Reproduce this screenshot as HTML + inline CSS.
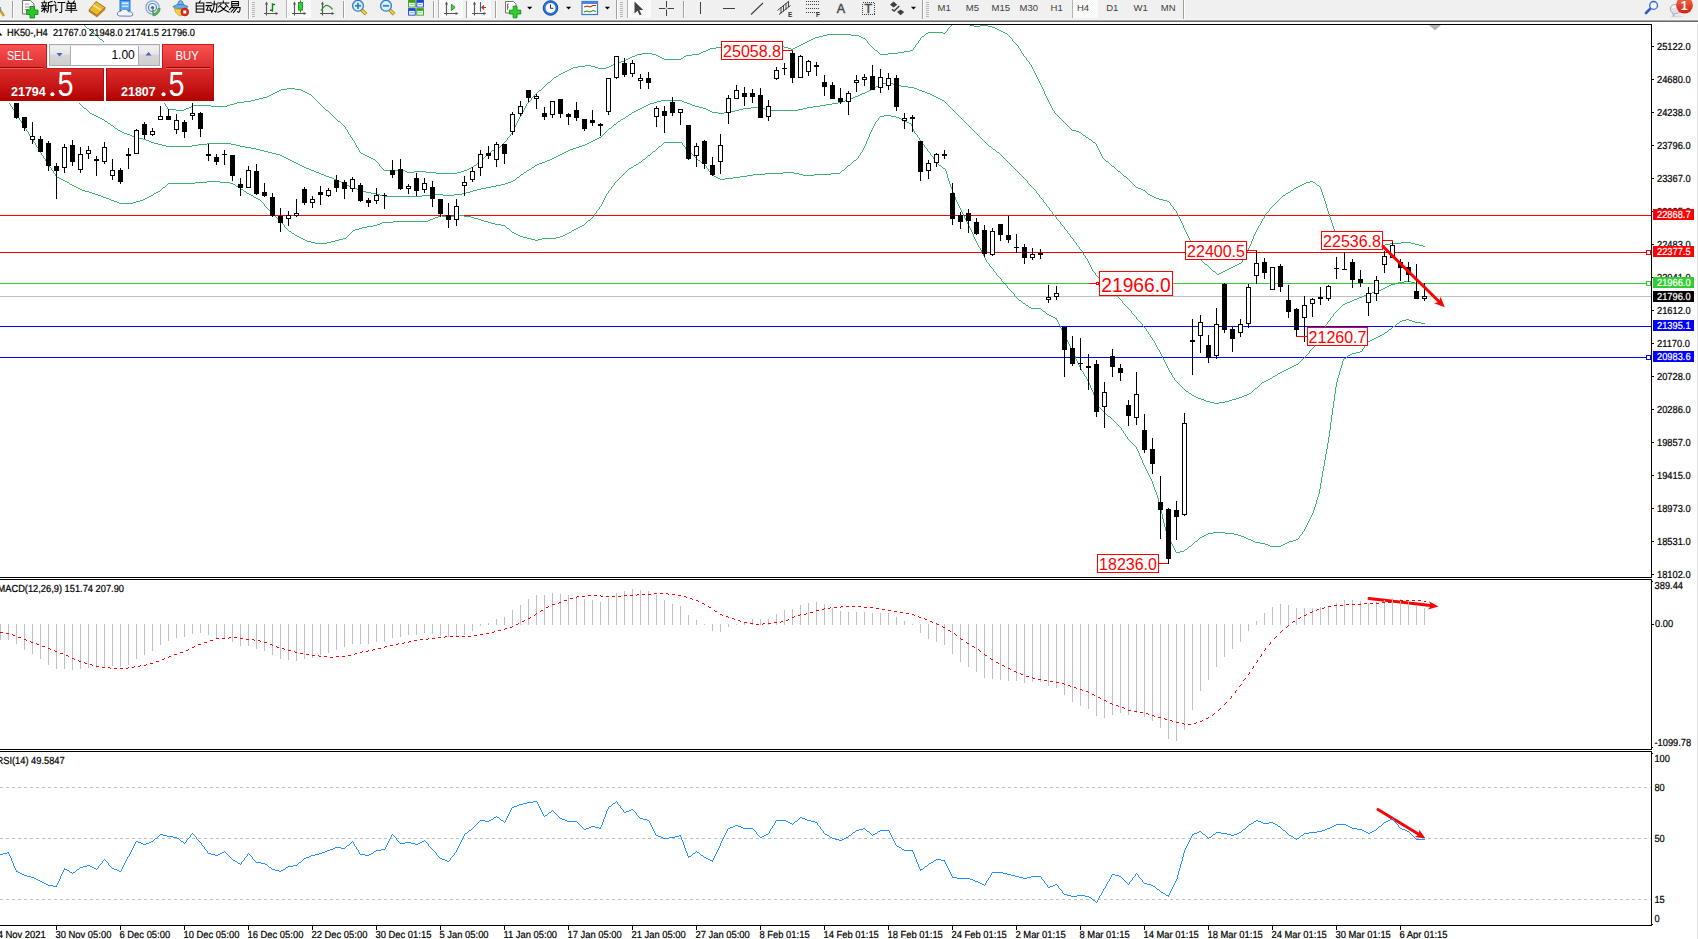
<!DOCTYPE html><html><head><meta charset="utf-8"><style>html,body{margin:0;padding:0;background:#fff}body{width:1698px;height:939px;overflow:hidden;position:relative}svg{position:absolute;left:0;top:0;display:block}text{font-family:"Liberation Sans",sans-serif}</style></head><body>
<svg width="1698" height="939" viewBox="0 0 1698 939">
<defs>
<clipPath id="cm"><rect x="0" y="25" width="1651" height="552"/></clipPath>
<clipPath id="c2"><rect x="0" y="580" width="1651" height="169"/></clipPath>
<clipPath id="c3"><rect x="0" y="752" width="1651" height="173"/></clipPath>
<linearGradient id="gt" x1="0" y1="0" x2="0" y2="1"><stop offset="0" stop-color="#fa5252"/><stop offset="1" stop-color="#de2e2e"/></linearGradient>
<linearGradient id="gb" x1="0" y1="0" x2="0" y2="1"><stop offset="0" stop-color="#dc2c2c"/><stop offset="0.6" stop-color="#c41414"/><stop offset="1" stop-color="#b00000"/></linearGradient>
<linearGradient id="gbtn" x1="0" y1="0" x2="0" y2="1"><stop offset="0" stop-color="#f4f4f4"/><stop offset="0.45" stop-color="#e6e6e6"/><stop offset="0.5" stop-color="#d6d6d6"/><stop offset="1" stop-color="#cfcfcf"/></linearGradient>
<pattern id="hatch" width="2" height="2" patternUnits="userSpaceOnUse"><rect width="2" height="2" fill="#f6f6f6"/><rect width="1" height="1" fill="#fff"/><rect x="1" y="1" width="1" height="1" fill="#fff"/></pattern>
</defs>
<rect x="0" y="0" width="1698" height="939" fill="#fff" />
<g shape-rendering="crispEdges">
<rect x="0" y="215" width="1651" height="1" fill="#ff0000" />
<rect x="0" y="252" width="1651" height="1" fill="#ff0000" />
<rect x="0" y="283" width="1651" height="1" fill="#32cd32" />
<rect x="0" y="296" width="1651" height="1" fill="#c0c0c0" />
<rect x="0" y="326" width="1651" height="1" fill="#0000ff" />
<rect x="0" y="357" width="1651" height="1" fill="#0000ff" />
</g>
<g clip-path="url(#cm)">
<g shape-rendering="crispEdges">
<path d="M958,18h8M957,19h1M966,19h1M956,20h1M966,20h1M955,21h1M967,21h1M954,22h1M968,22h1M953,23h1M969,23h1M952,24h1M969,24h1M84,25h1M951,25h1M970,25h4M980,25h8M85,26h1M950,26h1M974,26h6M988,26h4M86,27h1M949,27h1M992,27h3M87,28h2M948,28h1M995,28h2M89,29h1M947,29h1M997,29h2M90,30h1M947,30h1M999,30h2M91,31h1M946,31h1M1001,31h2M92,32h1M928,32h15M945,32h1M1003,32h2M93,33h2M926,33h2M943,33h2M1005,33h2M95,34h1M827,34h24M925,34h1M1007,34h1M96,35h1M823,35h4M851,35h8M924,35h1M1008,35h1M97,36h1M819,36h4M859,36h2M922,36h2M1009,36h1M98,37h1M815,37h4M861,37h2M921,37h1M1010,37h1M99,38h1M813,38h2M863,38h2M920,38h1M1011,38h1M100,39h2M811,39h2M865,39h1M920,39h1M1012,39h1M102,40h1M809,40h2M866,40h1M919,40h1M1012,40h1M103,41h1M807,41h2M867,41h1M918,41h1M1013,41h1M104,42h1M805,42h2M867,42h1M918,42h1M1014,42h1M105,43h1M803,43h2M868,43h1M917,43h1M1015,43h1M106,44h1M801,44h2M869,44h1M916,44h1M1016,44h1M107,45h1M799,45h2M870,45h1M915,45h1M1017,45h1M108,46h1M751,46h33M797,46h2M871,46h1M915,46h1M1018,46h1M109,47h1M716,47h35M784,47h4M795,47h2M872,47h1M914,47h1M1018,47h1M110,48h1M710,48h6M788,48h3M793,48h2M873,48h1M913,48h1M1019,48h1M111,49h1M708,49h2M791,49h2M874,49h1M913,49h1M1020,49h1M112,50h1M706,50h2M875,50h2M910,50h3M1020,50h1M113,51h1M703,51h3M877,51h1M904,51h6M1021,51h1M114,52h1M701,52h2M878,52h1M898,52h6M1021,52h1M115,53h1M642,53h10M699,53h2M879,53h1M888,53h10M1022,53h1M116,54h1M637,54h5M652,54h4M692,54h7M880,54h8M1023,54h1M117,55h1M635,55h2M656,55h2M686,55h6M1023,55h1M118,56h1M632,56h3M658,56h2M684,56h2M1024,56h1M119,57h1M630,57h2M660,57h2M683,57h1M1025,57h1M119,58h1M628,58h2M662,58h2M681,58h2M1026,58h1M120,59h1M626,59h2M664,59h17M1026,59h1M121,60h1M624,60h2M1027,60h1M122,61h1M621,61h3M1028,61h1M123,62h1M617,62h4M1029,62h1M124,63h1M615,63h2M1029,63h1M125,64h1M613,64h2M1030,64h1M126,65h1M585,65h6M611,65h2M1031,65h1M127,66h1M578,66h7M591,66h4M609,66h2M1031,66h1M128,67h1M573,67h5M595,67h3M606,67h3M1032,67h1M129,68h1M571,68h2M598,68h8M1032,68h1M130,69h1M569,69h2M1033,69h1M131,70h1M567,70h2M1033,70h1M132,71h1M565,71h2M1034,71h1M133,72h1M563,72h2M1034,72h1M134,73h1M561,73h2M1035,73h1M135,74h1M559,74h2M1035,74h1M136,75h1M558,75h1M1036,75h1M137,76h1M556,76h2M1036,76h1M138,77h1M554,77h2M1037,77h1M139,78h1M553,78h1M1037,78h1M140,79h1M552,79h1M1038,79h1M141,80h1M551,80h1M1038,80h1M142,81h1M550,81h1M1039,81h1M143,82h1M548,82h2M1039,82h1M144,83h1M547,83h1M1040,83h1M145,84h1M546,84h1M1040,84h1M146,85h1M545,85h1M1041,85h1M147,86h1M544,86h1M1041,86h1M148,87h1M543,87h1M1042,87h1M149,88h1M287,88h8M542,88h1M1042,88h1M150,89h1M281,89h6M295,89h6M541,89h1M1043,89h1M151,90h1M279,90h2M301,90h2M539,90h2M1043,90h1M152,91h1M277,91h2M303,91h2M538,91h1M1044,91h1M153,92h1M275,92h2M305,92h2M537,92h1M1044,92h1M154,93h1M273,93h2M307,93h2M536,93h1M1044,93h1M155,94h1M271,94h2M309,94h2M535,94h1M1045,94h1M156,95h1M269,95h2M311,95h1M534,95h1M1045,95h1M157,96h1M267,96h2M312,96h1M533,96h1M1046,96h1M158,97h1M263,97h4M313,97h1M532,97h1M1046,97h1M159,98h1M259,98h4M314,98h1M531,98h1M1047,98h1M160,99h1M255,99h4M315,99h1M531,99h1M1047,99h1M161,100h1M251,100h4M316,100h1M530,100h1M1048,100h1M162,101h1M244,101h7M317,101h1M529,101h1M1048,101h1M163,102h1M237,102h7M318,102h1M528,102h1M1049,102h1M164,103h1M234,103h3M319,103h1M527,103h1M1049,103h1M165,104h1M230,104h4M320,104h1M526,104h1M1050,104h1M165,105h1M193,105h18M227,105h3M321,105h1M526,105h1M1050,105h1M166,106h1M191,106h2M211,106h16M322,106h1M525,106h1M1051,106h1M167,107h1M189,107h2M323,107h1M525,107h1M1051,107h1M167,108h1M186,108h3M324,108h1M524,108h1M1052,108h1M168,109h8M184,109h2M325,109h1M524,109h1M1052,109h1M176,110h8M326,110h2M523,110h1M1053,110h1M328,111h1M523,111h1M1054,111h1M329,112h1M522,112h1M1054,112h1M330,113h1M522,113h1M1055,113h1M331,114h1M521,114h1M1056,114h1M332,115h1M521,115h1M1057,115h1M333,116h1M520,116h1M1058,116h1M334,117h1M519,117h1M1059,117h1M335,118h1M519,118h1M1060,118h1M336,119h1M518,119h1M1061,119h1M337,120h1M518,120h1M1062,120h1M338,121h2M517,121h1M1063,121h1M340,122h1M517,122h1M1064,122h1M341,123h1M516,123h1M1065,123h1M342,124h1M516,124h1M1066,124h1M343,125h1M515,125h1M1067,125h1M344,126h1M515,126h1M1068,126h1M345,127h1M514,127h1M1069,127h1M345,128h1M514,128h1M1070,128h1M346,129h1M513,129h1M1071,129h1M347,130h1M513,130h1M1072,130h4M347,131h1M512,131h1M1076,131h3M348,132h1M512,132h1M1079,132h2M348,133h1M511,133h1M1081,133h1M349,134h1M510,134h1M1082,134h1M350,135h1M510,135h1M1083,135h2M350,136h1M509,136h1M1085,136h1M351,137h1M508,137h1M1086,137h2M352,138h1M507,138h1M1088,138h1M352,139h1M507,139h1M1089,139h2M353,140h1M506,140h1M1091,140h1M354,141h1M505,141h1M1092,141h1M354,142h1M504,142h1M1093,142h2M355,143h1M503,143h1M1095,143h1M355,144h1M502,144h1M1096,144h1M356,145h1M501,145h1M1096,145h1M356,146h1M500,146h1M1097,146h1M357,147h1M498,147h2M1097,147h1M358,148h1M496,148h2M1098,148h1M358,149h1M494,149h2M1098,149h1M359,150h1M492,150h2M1099,150h1M359,151h1M491,151h1M1099,151h1M360,152h1M490,152h1M1100,152h1M361,153h2M489,153h1M1100,153h1M363,154h2M488,154h1M1101,154h1M365,155h2M486,155h2M1101,155h1M367,156h2M485,156h1M1102,156h1M369,157h2M484,157h1M1102,157h1M371,158h2M483,158h1M1103,158h1M373,159h2M482,159h1M1104,159h1M375,160h1M481,160h1M1105,160h1M376,161h1M479,161h2M1106,161h2M377,162h1M478,162h1M1108,162h1M378,163h1M477,163h1M1109,163h1M379,164h1M476,164h1M1110,164h1M379,165h1M474,165h2M1111,165h1M380,166h1M473,166h1M1112,166h2M381,167h1M471,167h2M1114,167h1M382,168h1M469,168h2M1115,168h1M383,169h1M398,169h5M467,169h2M1116,169h1M384,170h14M403,170h2M464,170h3M1117,170h1M405,171h2M414,171h12M461,171h3M1118,171h2M407,172h7M426,172h10M457,172h4M1120,172h1M436,173h21M1121,173h1M1122,174h1M1123,175h1M1124,176h2M1126,177h1M1127,178h1M1128,179h1M1129,180h1M1130,181h1M1310,181h3M1131,182h1M1306,182h4M1313,182h2M1132,183h1M1304,183h2M1315,183h1M1133,184h1M1302,184h2M1316,184h1M1134,185h1M1300,185h2M1317,185h2M1135,186h1M1298,186h2M1319,186h1M1136,187h2M1296,187h2M1320,187h1M1138,188h3M1294,188h2M1320,188h1M1141,189h2M1293,189h1M1321,189h1M1143,190h2M1291,190h2M1321,190h1M1145,191h1M1290,191h1M1321,191h1M1146,192h1M1288,192h2M1322,192h1M1147,193h1M1286,193h2M1322,193h1M1148,194h2M1285,194h1M1322,194h1M1150,195h2M1283,195h2M1323,195h1M1152,196h2M1282,196h1M1323,196h1M1154,197h2M1281,197h1M1323,197h1M1156,198h3M1280,198h1M1324,198h1M1159,199h4M1279,199h1M1324,199h1M1163,200h4M1278,200h1M1324,200h1M1167,201h2M1277,201h1M1325,201h1M1169,202h1M1276,202h1M1325,202h1M1170,203h1M1275,203h1M1325,203h1M1170,204h1M1274,204h1M1326,204h1M1171,205h1M1273,205h1M1326,205h1M1172,206h1M1272,206h1M1326,206h1M1173,207h1M1271,207h1M1326,207h1M1173,208h1M1270,208h1M1327,208h1M1174,209h1M1269,209h1M1327,209h1M1175,210h1M1269,210h1M1327,210h1M1176,211h1M1268,211h1M1328,211h1M1176,212h1M1267,212h1M1328,212h1M1177,213h1M1266,213h1M1328,213h1M1177,214h1M1265,214h1M1329,214h1M1178,215h1M1265,215h1M1329,215h1M1178,216h1M1264,216h1M1329,216h1M1179,217h1M1264,217h1M1330,217h1M1179,218h1M1263,218h1M1330,218h1M1180,219h1M1262,219h1M1330,219h1M1180,220h1M1262,220h1M1331,220h1M1181,221h1M1261,221h1M1331,221h1M1181,222h1M1261,222h1M1331,222h1M1182,223h1M1260,223h1M1332,223h1M1182,224h1M1260,224h1M1332,224h1M1183,225h1M1259,225h1M1332,225h1M1183,226h1M1258,226h1M1333,226h1M1183,227h1M1258,227h1M1333,227h1M1184,228h1M1257,228h1M1333,228h1M1184,229h1M1257,229h1M1334,229h1M1185,230h1M1256,230h1M1334,230h1M1185,231h1M1256,231h1M1335,231h1M1186,232h1M1255,232h1M1335,232h1M1186,233h1M1255,233h1M1336,233h1M1187,234h1M1254,234h1M1336,234h1M1187,235h1M1254,235h1M1337,235h1M1188,236h1M1253,236h1M1338,236h1M1188,237h1M1253,237h1M1338,237h1M1189,238h1M1253,238h1M1339,238h1M1189,239h1M1252,239h1M1339,239h1M1190,240h1M1252,240h1M1340,240h2M1191,241h1M1251,241h1M1342,241h4M1191,242h1M1251,242h1M1346,242h3M1401,242h10M1192,243h1M1251,243h1M1349,243h3M1390,243h11M1411,243h4M1192,244h1M1250,244h1M1352,244h4M1385,244h5M1415,244h4M1193,245h1M1250,245h1M1356,245h3M1372,245h13M1419,245h4M1193,246h1M1249,246h1M1359,246h13M1423,246h2M1194,247h1M1249,247h1M1195,248h1M1248,248h1M1195,249h1M1248,249h1M1196,250h1M1247,250h1M1196,251h1M1247,251h1M1197,252h1M1246,252h1M1197,253h1M1246,253h1M1198,254h1M1245,254h1M1199,255h1M1245,255h1M1199,256h1M1244,256h1M1200,257h1M1244,257h1M1200,258h1M1243,258h1M1201,259h1M1243,259h1M1201,260h1M1242,260h1M1202,261h1M1242,261h1M1203,262h1M1241,262h1M1204,263h1M1239,263h2M1205,264h2M1237,264h2M1207,265h1M1235,265h2M1208,266h1M1233,266h2M1209,267h1M1231,267h2M1210,268h1M1229,268h2M1211,269h1M1227,269h2M1212,270h1M1225,270h2M1213,271h2M1223,271h2M1215,272h1M1221,272h2M1216,273h1M1219,273h2M1217,274h2" transform="translate(0,0.5)" fill="none" stroke="#3cb371" stroke-width="1"/>
<path d="M60,82h1M886,82h3M61,83h1M882,83h4M889,83h4M62,84h1M880,84h2M893,84h4M63,85h1M878,85h2M897,85h4M64,86h1M876,86h2M901,86h7M65,87h1M874,87h2M908,87h6M65,88h1M872,88h2M914,88h3M66,89h1M871,89h1M917,89h2M67,90h1M869,90h2M919,90h3M68,91h1M867,91h2M922,91h3M69,92h1M865,92h2M925,92h2M70,93h1M862,93h3M927,93h3M71,94h1M860,94h2M930,94h2M72,95h1M858,95h2M932,95h2M73,96h1M855,96h3M934,96h2M74,97h1M853,97h2M936,97h2M74,98h1M850,98h3M938,98h2M75,99h1M847,99h3M940,99h2M76,100h1M661,100h21M845,100h2M942,100h2M77,101h1M657,101h4M682,101h2M842,101h3M944,101h1M78,102h1M654,102h3M684,102h3M838,102h4M945,102h1M79,103h1M650,103h4M687,103h3M832,103h6M946,103h1M80,104h1M648,104h2M690,104h2M826,104h6M947,104h1M81,105h1M646,105h2M692,105h3M820,105h6M948,105h1M82,106h1M644,106h2M695,106h4M813,106h7M949,106h1M83,107h1M642,107h2M699,107h4M751,107h8M807,107h6M950,107h1M84,108h2M640,108h2M703,108h3M743,108h8M759,108h6M803,108h4M951,108h1M86,109h1M638,109h2M706,109h2M739,109h4M765,109h5M798,109h5M952,109h1M87,110h1M636,110h2M708,110h2M735,110h4M770,110h28M953,110h1M88,111h1M634,111h2M710,111h2M730,111h5M954,111h1M89,112h1M632,112h2M712,112h6M724,112h6M955,112h1M90,113h2M631,113h1M718,113h6M956,113h1M92,114h2M629,114h2M957,114h1M94,115h2M628,115h1M958,115h1M96,116h2M626,116h2M959,116h1M98,117h2M625,117h1M960,117h1M100,118h2M623,118h2M961,118h1M102,119h2M621,119h2M962,119h1M104,120h1M620,120h1M963,120h1M105,121h2M618,121h2M964,121h1M107,122h1M617,122h1M965,122h1M108,123h2M616,123h1M966,123h1M110,124h1M614,124h2M967,124h1M111,125h2M613,125h1M968,125h1M113,126h1M612,126h1M969,126h1M114,127h1M611,127h1M970,127h1M115,128h2M609,128h2M971,128h1M117,129h1M608,129h1M972,129h1M118,130h2M607,130h1M973,130h1M120,131h2M606,131h1M974,131h1M122,132h2M605,132h1M975,132h1M124,133h3M604,133h1M976,133h1M127,134h3M603,134h1M977,134h1M130,135h2M602,135h1M978,135h1M132,136h3M601,136h1M979,136h1M135,137h4M599,137h2M980,137h1M139,138h4M597,138h2M981,138h1M143,139h3M595,139h2M982,139h1M146,140h3M593,140h2M983,140h1M149,141h2M591,141h2M984,141h1M151,142h3M589,142h2M985,142h1M154,143h4M207,143h24M587,143h2M986,143h1M158,144h4M198,144h9M231,144h5M585,144h2M987,144h1M162,145h4M192,145h6M236,145h4M582,145h3M988,145h1M166,146h26M240,146h5M579,146h3M989,146h2M245,147h6M576,147h3M991,147h1M251,148h5M573,148h3M992,148h1M256,149h4M570,149h3M993,149h2M260,150h4M568,150h2M995,150h1M264,151h4M566,151h2M996,151h1M268,152h4M564,152h2M997,152h2M272,153h4M562,153h2M999,153h1M276,154h4M560,154h2M1000,154h1M280,155h2M558,155h2M1001,155h1M282,156h2M556,156h2M1002,156h1M284,157h2M554,157h2M1003,157h1M286,158h2M552,158h2M1004,158h1M288,159h2M550,159h2M1005,159h1M290,160h2M547,160h3M1006,160h1M292,161h2M545,161h2M1007,161h1M294,162h2M542,162h3M1008,162h1M296,163h2M539,163h3M1009,163h1M298,164h2M537,164h2M1010,164h1M300,165h2M535,165h2M1011,165h1M302,166h2M534,166h1M1012,166h1M304,167h2M532,167h2M1013,167h1M306,168h3M531,168h1M1014,168h1M309,169h2M529,169h2M1015,169h1M311,170h3M527,170h2M1016,170h1M314,171h2M526,171h1M1017,171h1M316,172h3M524,172h2M1018,172h1M319,173h2M523,173h1M1019,173h1M321,174h3M521,174h2M1020,174h1M324,175h2M520,175h1M1021,175h1M326,176h3M519,176h1M1022,176h1M329,177h3M517,177h2M1023,177h1M332,178h2M516,178h1M1024,178h1M334,179h3M515,179h1M1025,179h1M337,180h2M513,180h2M1026,180h1M339,181h2M511,181h2M1027,181h1M341,182h2M508,182h3M1027,182h1M343,183h2M505,183h3M1028,183h1M345,184h2M501,184h4M1029,184h1M347,185h2M496,185h5M1030,185h1M349,186h2M491,186h5M1031,186h1M351,187h3M486,187h5M1032,187h1M354,188h3M481,188h5M1033,188h1M357,189h2M477,189h4M1034,189h1M359,190h3M473,190h4M1035,190h1M362,191h4M470,191h3M1036,191h1M366,192h5M466,192h4M1036,192h1M371,193h5M462,193h4M1037,193h1M376,194h4M432,194h11M454,194h8M1038,194h1M380,195h4M422,195h10M443,195h11M1039,195h1M384,196h38M1039,196h1M1040,197h1M1041,198h1M1042,199h1M1043,200h1M1043,201h1M1044,202h1M1045,203h1M1046,204h1M1046,205h1M1047,206h1M1048,207h1M1049,208h1M1049,209h1M1050,210h1M1051,211h1M1052,212h1M1052,213h1M1053,214h1M1054,215h1M1055,216h1M1056,217h1M1056,218h1M1057,219h1M1058,220h1M1059,221h1M1060,222h1M1060,223h1M1061,224h1M1062,225h1M1063,226h1M1064,227h1M1064,228h1M1065,229h1M1066,230h1M1067,231h1M1067,232h1M1068,233h1M1069,234h1M1070,235h1M1070,236h1M1071,237h1M1072,238h1M1073,239h1M1073,240h1M1074,241h1M1075,242h1M1076,243h1M1076,244h1M1077,245h1M1078,246h1M1079,247h1M1079,248h1M1080,249h1M1081,250h1M1082,251h1M1082,252h1M1083,253h1M1083,254h1M1084,255h1M1085,256h1M1085,257h1M1086,258h1M1087,259h1M1087,260h1M1088,261h1M1088,262h1M1089,263h1M1089,264h1M1090,265h1M1090,266h1M1091,267h1M1091,268h1M1092,269h1M1092,270h1M1093,271h1M1094,272h1M1095,273h1M1095,274h1M1096,275h1M1097,276h1M1098,277h1M1099,278h1M1100,279h1M1101,280h1M1102,281h1M1404,281h7M1103,282h1M1398,282h6M1411,282h4M1104,283h1M1395,283h3M1415,283h10M1105,284h1M1391,284h4M1106,285h1M1389,285h2M1107,286h1M1387,286h2M1108,287h1M1385,287h2M1109,288h1M1383,288h2M1110,289h1M1381,289h2M1111,290h1M1378,290h3M1112,291h1M1375,291h3M1113,292h1M1372,292h3M1114,293h1M1369,293h3M1115,294h1M1366,294h3M1116,295h1M1364,295h2M1117,296h1M1362,296h2M1118,297h1M1359,297h3M1119,298h1M1357,298h2M1120,299h1M1354,299h3M1121,300h1M1352,300h2M1122,301h1M1350,301h2M1122,302h1M1347,302h3M1123,303h1M1345,303h2M1124,304h1M1343,304h2M1125,305h1M1342,305h1M1126,306h1M1341,306h1M1127,307h1M1340,307h1M1128,308h1M1339,308h1M1129,309h1M1338,309h1M1130,310h1M1337,310h1M1131,311h1M1336,311h1M1131,312h1M1335,312h1M1132,313h1M1334,313h1M1133,314h1M1333,314h1M1134,315h1M1333,315h1M1135,316h1M1332,316h1M1136,317h1M1331,317h1M1136,318h1M1330,318h1M1137,319h1M1330,319h1M1138,320h1M1329,320h1M1139,321h1M1328,321h1M1140,322h1M1327,322h1M1141,323h1M1327,323h1M1142,324h1M1326,324h1M1142,325h1M1325,325h1M1143,326h1M1325,326h1M1144,327h1M1324,327h1M1145,328h1M1324,328h1M1146,329h1M1323,329h1M1146,330h1M1323,330h1M1147,331h1M1322,331h1M1148,332h1M1322,332h1M1148,333h1M1321,333h1M1149,334h1M1321,334h1M1150,335h1M1320,335h1M1150,336h1M1319,336h1M1151,337h1M1319,337h1M1152,338h1M1318,338h1M1152,339h1M1318,339h1M1153,340h1M1317,340h1M1154,341h1M1317,341h1M1154,342h1M1316,342h1M1155,343h1M1316,343h1M1155,344h1M1315,344h1M1156,345h1M1315,345h1M1156,346h1M1314,346h1M1157,347h1M1313,347h1M1157,348h1M1312,348h1M1158,349h1M1311,349h1M1159,350h1M1310,350h1M1159,351h1M1309,351h1M1160,352h1M1309,352h1M1160,353h1M1308,353h1M1161,354h1M1307,354h1M1161,355h1M1306,355h1M1162,356h1M1305,356h1M1162,357h1M1304,357h1M1163,358h1M1303,358h1M1163,359h1M1302,359h1M1164,360h1M1301,360h1M1164,361h1M1300,361h1M1165,362h1M1299,362h1M1165,363h1M1298,363h1M1166,364h1M1296,364h2M1166,365h1M1294,365h2M1167,366h1M1292,366h2M1167,367h1M1290,367h2M1168,368h1M1288,368h2M1168,369h1M1286,369h2M1169,370h1M1284,370h2M1169,371h1M1282,371h2M1170,372h1M1280,372h2M1171,373h1M1278,373h2M1171,374h1M1277,374h1M1172,375h1M1275,375h2M1172,376h1M1273,376h2M1173,377h1M1272,377h1M1174,378h1M1270,378h2M1174,379h1M1268,379h2M1175,380h1M1266,380h2M1176,381h1M1264,381h2M1177,382h1M1262,382h2M1178,383h1M1261,383h1M1179,384h1M1260,384h1M1180,385h1M1259,385h1M1181,386h1M1258,386h1M1182,387h1M1257,387h1M1183,388h1M1255,388h2M1184,389h1M1254,389h1M1185,390h1M1253,390h1M1186,391h2M1252,391h1M1188,392h1M1251,392h1M1189,393h2M1249,393h2M1191,394h1M1247,394h2M1192,395h2M1244,395h3M1194,396h2M1242,396h2M1196,397h2M1239,397h3M1198,398h3M1236,398h3M1201,399h3M1232,399h4M1204,400h2M1229,400h3M1206,401h4M1225,401h4M1210,402h4M1219,402h6M1214,403h5" transform="translate(0,0.5)" fill="none" stroke="#3cb371" stroke-width="1"/>
<path d="M9,103h1M10,104h1M10,105h1M11,106h1M12,107h1M12,108h1M13,109h1M14,110h1M14,111h1M15,112h1M15,113h1M16,114h1M17,115h1M884,115h7M17,116h1M880,116h4M891,116h5M18,117h1M879,117h1M896,117h3M19,118h1M878,118h1M899,118h2M19,119h1M878,119h1M901,119h2M20,120h1M877,120h1M903,120h2M21,121h1M876,121h1M905,121h2M21,122h1M875,122h1M907,122h2M22,123h1M875,123h1M909,123h2M23,124h1M874,124h1M911,124h1M23,125h1M874,125h1M911,125h1M24,126h1M873,126h1M912,126h1M24,127h1M873,127h1M912,127h1M25,128h1M872,128h1M912,128h1M26,129h1M872,129h1M913,129h1M26,130h1M871,130h1M913,130h1M27,131h1M871,131h1M914,131h1M28,132h1M870,132h1M914,132h1M28,133h1M870,133h1M915,133h1M29,134h1M869,134h1M916,134h1M29,135h1M869,135h1M917,135h1M30,136h1M869,136h1M917,136h1M31,137h1M868,137h1M918,137h1M31,138h1M868,138h1M919,138h1M32,139h1M867,139h1M919,139h1M33,140h1M867,140h1M920,140h1M33,141h1M866,141h1M921,141h1M34,142h1M664,142h18M866,142h1M922,142h1M35,143h1M663,143h1M682,143h1M866,143h1M922,143h1M35,144h1M662,144h1M682,144h1M865,144h1M923,144h1M36,145h1M661,145h1M683,145h1M865,145h1M924,145h1M36,146h1M659,146h2M684,146h1M864,146h1M924,146h1M37,147h1M658,147h1M685,147h1M864,147h1M925,147h1M38,148h1M657,148h1M685,148h1M863,148h1M926,148h1M38,149h1M656,149h1M686,149h1M863,149h1M927,149h1M39,150h1M655,150h1M687,150h1M862,150h1M927,150h1M40,151h1M653,151h2M688,151h1M862,151h1M928,151h1M40,152h1M652,152h1M689,152h1M861,152h1M929,152h1M41,153h1M651,153h1M690,153h2M860,153h1M930,153h1M41,154h1M650,154h1M692,154h1M860,154h1M930,154h1M42,155h1M648,155h2M693,155h1M859,155h1M931,155h1M43,156h1M647,156h1M694,156h1M858,156h1M932,156h1M43,157h1M646,157h1M695,157h1M858,157h1M933,157h1M44,158h1M645,158h1M696,158h1M857,158h1M933,158h1M45,159h1M643,159h2M697,159h1M856,159h1M934,159h1M45,160h1M642,160h1M698,160h2M854,160h2M935,160h1M46,161h1M641,161h1M700,161h1M853,161h1M936,161h1M47,162h1M639,162h2M701,162h1M852,162h1M936,162h1M47,163h1M638,163h1M702,163h2M851,163h1M937,163h1M48,164h1M636,164h2M704,164h1M850,164h1M938,164h1M49,165h1M634,165h2M705,165h1M848,165h2M939,165h2M49,166h1M633,166h1M706,166h1M847,166h1M941,166h1M50,167h1M631,167h2M706,167h1M846,167h1M942,167h1M51,168h1M629,168h2M707,168h1M845,168h1M943,168h2M51,169h1M628,169h1M708,169h1M844,169h1M945,169h1M52,170h1M627,170h1M708,170h1M842,170h2M945,170h1M53,171h1M626,171h1M709,171h1M841,171h1M946,171h1M53,172h1M625,172h1M710,172h1M783,172h11M840,172h1M946,172h1M54,173h1M624,173h1M711,173h1M765,173h18M794,173h5M831,173h9M946,173h1M55,174h1M623,174h1M711,174h1M753,174h12M799,174h4M814,174h17M947,174h1M55,175h1M622,175h1M712,175h2M747,175h6M803,175h11M947,175h1M56,176h1M621,176h1M714,176h2M740,176h7M947,176h1M57,177h2M620,177h1M716,177h2M733,177h7M947,177h1M59,178h2M619,178h1M718,178h2M725,178h8M948,178h1M61,179h2M618,179h1M720,179h5M948,179h1M63,180h2M617,180h1M948,180h1M65,181h2M207,181h13M616,181h1M949,181h1M67,182h2M195,182h12M220,182h10M615,182h1M949,182h1M69,183h1M168,183h27M230,183h3M614,183h1M949,183h1M70,184h2M167,184h1M233,184h2M614,184h1M950,184h1M72,185h2M166,185h1M235,185h1M613,185h1M950,185h1M74,186h2M165,186h1M236,186h2M612,186h1M950,186h1M76,187h2M163,187h2M238,187h2M611,187h1M951,187h1M78,188h2M162,188h1M240,188h1M611,188h1M951,188h1M80,189h2M161,189h1M241,189h2M610,189h1M952,189h1M82,190h3M160,190h1M243,190h1M609,190h1M952,190h1M85,191h4M158,191h2M244,191h2M608,191h1M952,191h1M89,192h3M156,192h2M246,192h1M608,192h1M953,192h1M92,193h3M154,193h2M247,193h2M607,193h1M953,193h1M95,194h3M153,194h1M249,194h2M606,194h1M953,194h1M98,195h3M151,195h2M251,195h2M606,195h1M954,195h1M101,196h2M149,196h2M253,196h1M605,196h1M954,196h1M103,197h3M147,197h2M254,197h2M605,197h1M955,197h1M106,198h3M145,198h2M256,198h2M604,198h1M955,198h1M109,199h2M143,199h2M258,199h2M604,199h1M955,199h1M111,200h3M140,200h3M260,200h1M603,200h1M956,200h1M114,201h3M136,201h4M261,201h1M603,201h1M956,201h1M117,202h2M133,202h3M262,202h1M602,202h1M957,202h1M119,203h14M263,203h1M602,203h1M957,203h1M264,204h1M601,204h1M958,204h1M264,205h1M601,205h1M958,205h1M265,206h1M600,206h1M959,206h1M266,207h1M599,207h1M959,207h1M267,208h1M599,208h1M960,208h1M268,209h1M598,209h1M960,209h1M269,210h1M597,210h1M961,210h1M270,211h1M596,211h1M961,211h1M271,212h1M596,212h1M962,212h1M272,213h1M595,213h1M962,213h1M273,214h1M594,214h1M963,214h1M274,215h1M440,215h2M456,215h8M594,215h1M963,215h1M275,216h1M438,216h2M442,216h4M450,216h6M464,216h7M593,216h1M964,216h1M276,217h1M435,217h3M446,217h4M471,217h3M592,217h1M964,217h1M277,218h1M433,218h2M474,218h4M591,218h1M965,218h1M278,219h1M430,219h3M478,219h3M590,219h1M965,219h1M279,220h1M428,220h2M481,220h3M588,220h2M966,220h1M280,221h1M393,221h35M484,221h4M587,221h1M966,221h1M281,222h1M382,222h11M488,222h3M586,222h1M967,222h1M282,223h1M380,223h2M491,223h4M585,223h1M967,223h1M283,224h1M377,224h3M495,224h6M584,224h1M968,224h1M284,225h1M373,225h4M501,225h4M582,225h2M968,225h1M284,226h1M367,226h6M505,226h1M580,226h2M969,226h1M285,227h1M362,227h5M506,227h1M578,227h2M969,227h1M286,228h1M359,228h3M507,228h2M576,228h2M970,228h1M287,229h1M355,229h4M509,229h1M574,229h2M970,229h1M288,230h1M353,230h2M510,230h1M572,230h2M971,230h1M289,231h2M352,231h1M511,231h1M571,231h1M971,231h1M291,232h1M351,232h1M512,232h2M569,232h2M972,232h1M292,233h2M350,233h1M514,233h2M567,233h2M972,233h1M294,234h1M349,234h1M516,234h2M565,234h2M973,234h1M295,235h2M348,235h1M518,235h2M563,235h2M973,235h1M297,236h2M347,236h1M520,236h3M560,236h3M973,236h1M299,237h2M346,237h1M523,237h4M556,237h4M974,237h1M301,238h2M343,238h3M527,238h4M542,238h14M974,238h1M303,239h2M339,239h4M531,239h4M538,239h4M975,239h1M305,240h2M335,240h4M535,240h3M975,240h1M307,241h4M331,241h4M976,241h1M311,242h4M327,242h4M976,242h1M315,243h12M977,243h1M977,244h1M978,245h1M978,246h1M979,247h1M980,248h1M980,249h1M981,250h1M981,251h1M982,252h1M982,253h1M983,254h1M983,255h1M984,256h1M984,257h1M985,258h1M985,259h1M986,260h1M986,261h1M987,262h1M988,263h1M989,264h1M989,265h1M990,266h1M991,267h1M992,268h1M993,269h1M993,270h1M994,271h1M995,272h1M996,273h1M996,274h1M997,275h1M998,276h1M999,277h1M1000,278h1M1001,279h1M1001,280h1M1002,281h1M1003,282h1M1004,283h1M1005,284h1M1006,285h1M1007,286h1M1007,287h1M1008,288h1M1009,289h1M1010,290h1M1011,291h1M1012,292h1M1013,293h1M1014,294h1M1014,295h1M1015,296h1M1016,297h1M1017,298h1M1018,299h1M1019,300h2M1021,301h1M1022,302h1M1023,303h2M1025,304h1M1026,305h2M1028,306h1M1029,307h2M1031,308h10M1041,309h1M1042,310h1M1043,311h2M1045,312h1M1046,313h1M1047,314h2M1049,315h2M1051,316h2M1053,317h2M1055,318h2M1056,319h1M1406,319h3M1057,320h1M1402,320h4M1409,320h3M1057,321h1M1400,321h2M1412,321h3M1058,322h1M1399,322h1M1415,322h6M1058,323h1M1397,323h2M1421,323h4M1059,324h1M1396,324h1M1059,325h1M1395,325h1M1060,326h1M1393,326h2M1060,327h1M1392,327h1M1061,328h1M1391,328h1M1061,329h1M1389,329h2M1062,330h1M1388,330h1M1062,331h1M1387,331h1M1063,332h1M1385,332h2M1063,333h1M1384,333h1M1064,334h1M1382,334h2M1064,335h1M1380,335h2M1065,336h1M1378,336h2M1065,337h1M1376,337h2M1066,338h1M1374,338h2M1066,339h1M1372,339h2M1067,340h1M1370,340h2M1067,341h1M1368,341h2M1068,342h1M1367,342h1M1068,343h1M1366,343h1M1069,344h1M1366,344h1M1069,345h1M1365,345h1M1070,346h1M1364,346h1M1070,347h1M1364,347h1M1071,348h1M1363,348h1M1071,349h1M1362,349h1M1072,350h1M1362,350h1M1072,351h1M1360,351h2M1073,352h1M1356,352h4M1073,353h1M1352,353h4M1074,354h1M1350,354h2M1074,355h1M1348,355h2M1075,356h1M1347,356h1M1075,357h1M1346,357h1M1075,358h1M1344,358h2M1076,359h1M1343,359h1M1076,360h1M1343,360h1M1077,361h1M1342,361h1M1077,362h1M1342,362h1M1078,363h1M1342,363h1M1078,364h1M1342,364h1M1079,365h1M1341,365h1M1079,366h1M1341,366h1M1080,367h1M1341,367h1M1080,368h1M1340,368h1M1081,369h1M1340,369h1M1081,370h1M1340,370h1M1082,371h1M1339,371h1M1083,372h1M1339,372h1M1083,373h1M1339,373h1M1084,374h1M1339,374h1M1084,375h1M1338,375h1M1085,376h1M1338,376h1M1086,377h1M1338,377h1M1086,378h1M1337,378h1M1087,379h1M1337,379h1M1087,380h1M1337,380h1M1088,381h1M1337,381h1M1088,382h1M1336,382h1M1089,383h1M1336,383h1M1089,384h1M1336,384h1M1090,385h1M1336,385h1M1090,386h1M1336,386h1M1090,387h1M1335,387h1M1091,388h1M1335,388h1M1091,389h1M1335,389h1M1092,390h1M1335,390h1M1092,391h1M1335,391h1M1093,392h1M1335,392h1M1093,393h1M1335,393h1M1093,394h1M1334,394h1M1094,395h1M1334,395h1M1094,396h1M1334,396h1M1095,397h1M1334,397h1M1095,398h1M1334,398h1M1095,399h1M1334,399h1M1096,400h1M1334,400h1M1096,401h1M1333,401h1M1096,402h1M1333,402h1M1097,403h1M1333,403h1M1097,404h1M1333,404h1M1098,405h1M1333,405h1M1098,406h1M1333,406h1M1099,407h1M1333,407h1M1100,408h1M1332,408h1M1101,409h1M1332,409h1M1102,410h1M1332,410h1M1103,411h1M1332,411h1M1104,412h1M1332,412h1M1105,413h1M1332,413h1M1106,414h1M1332,414h1M1107,415h1M1331,415h1M1108,416h2M1331,416h1M1110,417h1M1331,417h1M1111,418h1M1331,418h1M1112,419h1M1331,419h1M1113,420h1M1331,420h1M1114,421h1M1331,421h1M1115,422h1M1330,422h1M1116,423h1M1330,423h1M1117,424h1M1330,424h1M1118,425h1M1330,425h1M1119,426h1M1330,426h1M1120,427h1M1330,427h1M1121,428h1M1330,428h1M1121,429h1M1330,429h1M1122,430h1M1329,430h1M1123,431h1M1329,431h1M1123,432h1M1329,432h1M1124,433h1M1329,433h1M1125,434h1M1329,434h1M1125,435h1M1329,435h1M1126,436h1M1329,436h1M1127,437h1M1328,437h1M1127,438h1M1328,438h1M1128,439h1M1328,439h1M1129,440h1M1328,440h1M1130,441h1M1328,441h1M1131,442h1M1328,442h1M1132,443h1M1327,443h1M1133,444h1M1327,444h1M1134,445h1M1327,445h1M1135,446h1M1327,446h1M1136,447h1M1327,447h1M1136,448h1M1327,448h1M1137,449h1M1326,449h1M1137,450h1M1326,450h1M1138,451h1M1326,451h1M1138,452h1M1326,452h1M1139,453h1M1326,453h1M1139,454h1M1325,454h1M1139,455h1M1325,455h1M1140,456h1M1325,456h1M1140,457h1M1325,457h1M1141,458h1M1325,458h1M1141,459h1M1325,459h1M1142,460h1M1324,460h1M1142,461h1M1324,461h1M1142,462h1M1324,462h1M1143,463h1M1324,463h1M1143,464h1M1324,464h1M1144,465h1M1324,465h1M1144,466h1M1323,466h1M1145,467h1M1323,467h1M1145,468h1M1323,468h1M1146,469h1M1323,469h1M1146,470h1M1323,470h1M1147,471h1M1322,471h1M1147,472h1M1322,472h1M1148,473h1M1322,473h1M1148,474h1M1322,474h1M1149,475h1M1322,475h1M1149,476h1M1322,476h1M1150,477h1M1321,477h1M1150,478h1M1321,478h1M1151,479h1M1321,479h1M1151,480h1M1321,480h1M1152,481h1M1321,481h1M1152,482h1M1321,482h1M1152,483h1M1320,483h1M1153,484h1M1320,484h1M1153,485h1M1320,485h1M1153,486h1M1320,486h1M1154,487h1M1320,487h1M1154,488h1M1320,488h1M1154,489h1M1319,489h1M1155,490h1M1319,490h1M1155,491h1M1319,491h1M1156,492h1M1319,492h1M1156,493h1M1319,493h1M1156,494h1M1318,494h1M1157,495h1M1318,495h1M1157,496h1M1318,496h1M1157,497h1M1317,497h1M1158,498h1M1317,498h1M1158,499h1M1317,499h1M1158,500h1M1316,500h1M1158,501h1M1316,501h1M1159,502h1M1316,502h1M1159,503h1M1316,503h1M1159,504h1M1315,504h1M1159,505h1M1315,505h1M1160,506h1M1315,506h1M1160,507h1M1314,507h1M1160,508h1M1314,508h1M1160,509h1M1314,509h1M1161,510h1M1313,510h1M1161,511h1M1313,511h1M1161,512h1M1313,512h1M1161,513h1M1312,513h1M1162,514h1M1312,514h1M1162,515h1M1311,515h1M1162,516h1M1311,516h1M1162,517h1M1310,517h1M1162,518h1M1310,518h1M1163,519h1M1309,519h1M1163,520h1M1309,520h1M1163,521h1M1308,521h1M1163,522h1M1308,522h1M1164,523h1M1307,523h1M1164,524h1M1307,524h1M1164,525h1M1306,525h1M1164,526h1M1306,526h1M1165,527h1M1305,527h1M1165,528h1M1305,528h1M1165,529h1M1304,529h1M1165,530h1M1304,530h1M1166,531h1M1303,531h1M1166,532h1M1213,532h12M1302,532h1M1166,533h1M1208,533h5M1225,533h9M1302,533h1M1167,534h1M1206,534h2M1234,534h4M1301,534h1M1167,535h1M1204,535h2M1238,535h3M1300,535h1M1168,536h1M1202,536h2M1241,536h3M1299,536h1M1168,537h1M1200,537h2M1244,537h2M1299,537h1M1169,538h1M1199,538h1M1246,538h2M1298,538h1M1169,539h1M1198,539h1M1248,539h3M1296,539h2M1170,540h1M1197,540h1M1251,540h2M1293,540h3M1170,541h1M1195,541h2M1253,541h2M1289,541h4M1171,542h1M1194,542h1M1255,542h5M1287,542h2M1171,543h1M1193,543h1M1260,543h5M1285,543h2M1172,544h1M1192,544h1M1265,544h3M1283,544h2M1172,545h1M1191,545h1M1268,545h2M1281,545h2M1173,546h1M1189,546h2M1270,546h11M1173,547h1M1188,547h1M1174,548h1M1187,548h1M1174,549h1M1185,549h2M1175,550h1M1184,550h1M1175,551h1M1180,551h4M1176,552h4" transform="translate(0,0.5)" fill="none" stroke="#3cb371" stroke-width="1"/>
<rect x="16" y="95" width="1" height="24" fill="#000" />
<rect x="14" y="95" width="5" height="23" fill="#000" />
<rect x="24" y="117" width="1" height="14" fill="#000" />
<rect x="22" y="117" width="5" height="11" fill="#000" />
<rect x="32" y="122" width="1" height="22" fill="#000" />
<rect x="30" y="136" width="5" height="4" fill="#000" />
<rect x="31" y="137" width="3" height="2" fill="#fff" />
<rect x="40" y="136" width="1" height="16" fill="#000" />
<rect x="38" y="139" width="5" height="13" fill="#000" />
<rect x="48" y="141" width="1" height="30" fill="#000" />
<rect x="46" y="143" width="5" height="23" fill="#000" />
<rect x="56" y="163" width="1" height="36" fill="#000" />
<rect x="54" y="166" width="5" height="5" fill="#000" />
<rect x="64" y="144" width="1" height="29" fill="#000" />
<rect x="62" y="147" width="5" height="21" fill="#000" />
<rect x="63" y="148" width="3" height="19" fill="#fff" />
<rect x="72" y="140" width="1" height="26" fill="#000" />
<rect x="70" y="145" width="5" height="17" fill="#000" />
<rect x="80" y="147" width="1" height="26" fill="#000" />
<rect x="78" y="154" width="5" height="16" fill="#000" />
<rect x="79" y="155" width="3" height="14" fill="#fff" />
<rect x="88" y="146" width="1" height="13" fill="#000" />
<rect x="86" y="150" width="5" height="4" fill="#000" />
<rect x="87" y="151" width="3" height="2" fill="#fff" />
<rect x="96" y="156" width="1" height="20" fill="#000" />
<rect x="94" y="159" width="5" height="2" fill="#000" />
<rect x="104" y="142" width="1" height="22" fill="#000" />
<rect x="102" y="147" width="5" height="15" fill="#000" />
<rect x="103" y="148" width="3" height="13" fill="#fff" />
<rect x="112" y="159" width="1" height="21" fill="#000" />
<rect x="110" y="170" width="5" height="6" fill="#000" />
<rect x="111" y="171" width="3" height="4" fill="#fff" />
<rect x="120" y="168" width="1" height="16" fill="#000" />
<rect x="118" y="170" width="5" height="12" fill="#000" />
<rect x="128" y="148" width="1" height="21" fill="#000" />
<rect x="126" y="154" width="5" height="2" fill="#000" />
<rect x="136" y="129" width="1" height="25" fill="#000" />
<rect x="134" y="130" width="5" height="24" fill="#000" />
<rect x="135" y="131" width="3" height="22" fill="#fff" />
<rect x="144" y="122" width="1" height="17" fill="#000" />
<rect x="142" y="124" width="5" height="11" fill="#000" />
<rect x="152" y="128" width="1" height="8" fill="#000" />
<rect x="150" y="131" width="5" height="4" fill="#000" />
<rect x="151" y="132" width="3" height="2" fill="#fff" />
<rect x="160" y="106" width="1" height="14" fill="#000" />
<rect x="158" y="116" width="5" height="4" fill="#000" />
<rect x="159" y="117" width="3" height="2" fill="#fff" />
<rect x="168" y="109" width="1" height="11" fill="#000" />
<rect x="166" y="116" width="5" height="4" fill="#000" />
<rect x="176" y="114" width="1" height="20" fill="#000" />
<rect x="174" y="120" width="5" height="10" fill="#000" />
<rect x="175" y="121" width="3" height="8" fill="#fff" />
<rect x="184" y="120" width="1" height="18" fill="#000" />
<rect x="182" y="122" width="5" height="10" fill="#000" />
<rect x="192" y="103" width="1" height="17" fill="#000" />
<rect x="190" y="113" width="5" height="3" fill="#000" />
<rect x="191" y="114" width="3" height="1" fill="#fff" />
<rect x="200" y="112" width="1" height="25" fill="#000" />
<rect x="198" y="113" width="5" height="16" fill="#000" />
<rect x="208" y="144" width="1" height="17" fill="#000" />
<rect x="206" y="154" width="5" height="2" fill="#000" />
<rect x="216" y="154" width="1" height="11" fill="#000" />
<rect x="214" y="157" width="5" height="5" fill="#000" />
<rect x="224" y="150" width="1" height="15" fill="#000" />
<rect x="222" y="154" width="5" height="1" fill="#000" />
<rect x="232" y="155" width="1" height="26" fill="#000" />
<rect x="230" y="155" width="5" height="21" fill="#000" />
<rect x="240" y="178" width="1" height="18" fill="#000" />
<rect x="238" y="184" width="5" height="4" fill="#000" />
<rect x="248" y="166" width="1" height="22" fill="#000" />
<rect x="246" y="170" width="5" height="18" fill="#000" />
<rect x="247" y="171" width="3" height="16" fill="#fff" />
<rect x="256" y="164" width="1" height="31" fill="#000" />
<rect x="254" y="171" width="5" height="23" fill="#000" />
<rect x="264" y="183" width="1" height="14" fill="#000" />
<rect x="262" y="192" width="5" height="4" fill="#000" />
<rect x="272" y="193" width="1" height="24" fill="#000" />
<rect x="270" y="197" width="5" height="19" fill="#000" />
<rect x="280" y="208" width="1" height="24" fill="#000" />
<rect x="278" y="216" width="5" height="7" fill="#000" />
<rect x="288" y="211" width="1" height="15" fill="#000" />
<rect x="286" y="215" width="5" height="4" fill="#000" />
<rect x="287" y="216" width="3" height="2" fill="#fff" />
<rect x="296" y="199" width="1" height="18" fill="#000" />
<rect x="294" y="213" width="5" height="3" fill="#000" />
<rect x="295" y="214" width="3" height="1" fill="#fff" />
<rect x="304" y="187" width="1" height="18" fill="#000" />
<rect x="302" y="189" width="5" height="14" fill="#000" />
<rect x="312" y="196" width="1" height="12" fill="#000" />
<rect x="310" y="199" width="5" height="4" fill="#000" />
<rect x="311" y="200" width="3" height="2" fill="#fff" />
<rect x="320" y="186" width="1" height="19" fill="#000" />
<rect x="318" y="192" width="5" height="3" fill="#000" />
<rect x="328" y="188" width="1" height="9" fill="#000" />
<rect x="326" y="190" width="5" height="6" fill="#000" />
<rect x="327" y="191" width="3" height="4" fill="#fff" />
<rect x="336" y="175" width="1" height="17" fill="#000" />
<rect x="334" y="180" width="5" height="8" fill="#000" />
<rect x="344" y="180" width="1" height="19" fill="#000" />
<rect x="342" y="182" width="5" height="7" fill="#000" />
<rect x="352" y="177" width="1" height="15" fill="#000" />
<rect x="350" y="179" width="5" height="10" fill="#000" />
<rect x="351" y="180" width="3" height="8" fill="#fff" />
<rect x="360" y="183" width="1" height="19" fill="#000" />
<rect x="358" y="185" width="5" height="16" fill="#000" />
<rect x="368" y="198" width="1" height="9" fill="#000" />
<rect x="366" y="200" width="5" height="3" fill="#000" />
<rect x="376" y="188" width="1" height="16" fill="#000" />
<rect x="374" y="195" width="5" height="6" fill="#000" />
<rect x="375" y="196" width="3" height="4" fill="#fff" />
<rect x="384" y="193" width="1" height="16" fill="#000" />
<rect x="382" y="195" width="5" height="1" fill="#000" />
<rect x="392" y="160" width="1" height="18" fill="#000" />
<rect x="390" y="170" width="5" height="5" fill="#000" />
<rect x="400" y="159" width="1" height="31" fill="#000" />
<rect x="398" y="169" width="5" height="20" fill="#000" />
<rect x="408" y="184" width="1" height="10" fill="#000" />
<rect x="406" y="186" width="5" height="3" fill="#000" />
<rect x="407" y="187" width="3" height="1" fill="#fff" />
<rect x="416" y="173" width="1" height="23" fill="#000" />
<rect x="414" y="178" width="5" height="13" fill="#000" />
<rect x="424" y="178" width="1" height="15" fill="#000" />
<rect x="422" y="183" width="5" height="7" fill="#000" />
<rect x="423" y="184" width="3" height="5" fill="#fff" />
<rect x="432" y="181" width="1" height="26" fill="#000" />
<rect x="430" y="187" width="5" height="12" fill="#000" />
<rect x="440" y="199" width="1" height="18" fill="#000" />
<rect x="438" y="199" width="5" height="15" fill="#000" />
<rect x="448" y="203" width="1" height="25" fill="#000" />
<rect x="446" y="215" width="5" height="5" fill="#000" />
<rect x="456" y="199" width="1" height="27" fill="#000" />
<rect x="454" y="206" width="5" height="14" fill="#000" />
<rect x="455" y="207" width="3" height="12" fill="#fff" />
<rect x="464" y="176" width="1" height="20" fill="#000" />
<rect x="462" y="182" width="5" height="4" fill="#000" />
<rect x="463" y="183" width="3" height="2" fill="#fff" />
<rect x="472" y="167" width="1" height="15" fill="#000" />
<rect x="470" y="171" width="5" height="9" fill="#000" />
<rect x="471" y="172" width="3" height="7" fill="#fff" />
<rect x="480" y="150" width="1" height="26" fill="#000" />
<rect x="478" y="154" width="5" height="14" fill="#000" />
<rect x="479" y="155" width="3" height="12" fill="#fff" />
<rect x="488" y="146" width="1" height="13" fill="#000" />
<rect x="486" y="153" width="5" height="3" fill="#000" />
<rect x="496" y="142" width="1" height="25" fill="#000" />
<rect x="494" y="144" width="5" height="16" fill="#000" />
<rect x="495" y="145" width="3" height="14" fill="#fff" />
<rect x="504" y="144" width="1" height="20" fill="#000" />
<rect x="502" y="144" width="5" height="10" fill="#000" />
<rect x="512" y="112" width="1" height="23" fill="#000" />
<rect x="510" y="114" width="5" height="18" fill="#000" />
<rect x="511" y="115" width="3" height="16" fill="#fff" />
<rect x="520" y="101" width="1" height="15" fill="#000" />
<rect x="518" y="106" width="5" height="8" fill="#000" />
<rect x="519" y="107" width="3" height="6" fill="#fff" />
<rect x="528" y="90" width="1" height="12" fill="#000" />
<rect x="526" y="90" width="5" height="8" fill="#000" />
<rect x="536" y="94" width="1" height="15" fill="#000" />
<rect x="534" y="96" width="5" height="3" fill="#000" />
<rect x="535" y="97" width="3" height="1" fill="#fff" />
<rect x="544" y="107" width="1" height="13" fill="#000" />
<rect x="542" y="113" width="5" height="4" fill="#000" />
<rect x="552" y="101" width="1" height="17" fill="#000" />
<rect x="550" y="101" width="5" height="14" fill="#000" />
<rect x="551" y="102" width="3" height="12" fill="#fff" />
<rect x="560" y="99" width="1" height="19" fill="#000" />
<rect x="558" y="99" width="5" height="15" fill="#000" />
<rect x="568" y="113" width="1" height="12" fill="#000" />
<rect x="566" y="114" width="5" height="3" fill="#000" />
<rect x="576" y="102" width="1" height="19" fill="#000" />
<rect x="574" y="110" width="5" height="8" fill="#000" />
<rect x="584" y="119" width="1" height="12" fill="#000" />
<rect x="582" y="119" width="5" height="10" fill="#000" />
<rect x="592" y="110" width="1" height="16" fill="#000" />
<rect x="590" y="120" width="5" height="3" fill="#000" />
<rect x="600" y="123" width="1" height="13" fill="#000" />
<rect x="598" y="124" width="5" height="2" fill="#000" />
<rect x="608" y="78" width="1" height="37" fill="#000" />
<rect x="606" y="78" width="5" height="34" fill="#000" />
<rect x="607" y="79" width="3" height="32" fill="#fff" />
<rect x="616" y="56" width="1" height="23" fill="#000" />
<rect x="614" y="56" width="5" height="22" fill="#000" />
<rect x="615" y="57" width="3" height="20" fill="#fff" />
<rect x="624" y="58" width="1" height="19" fill="#000" />
<rect x="622" y="63" width="5" height="12" fill="#000" />
<rect x="632" y="60" width="1" height="17" fill="#000" />
<rect x="630" y="63" width="5" height="11" fill="#000" />
<rect x="631" y="64" width="3" height="9" fill="#fff" />
<rect x="640" y="74" width="1" height="15" fill="#000" />
<rect x="638" y="78" width="5" height="3" fill="#000" />
<rect x="639" y="79" width="3" height="1" fill="#fff" />
<rect x="648" y="72" width="1" height="17" fill="#000" />
<rect x="646" y="78" width="5" height="5" fill="#000" />
<rect x="656" y="106" width="1" height="21" fill="#000" />
<rect x="654" y="108" width="5" height="9" fill="#000" />
<rect x="655" y="109" width="3" height="7" fill="#fff" />
<rect x="664" y="106" width="1" height="27" fill="#000" />
<rect x="662" y="111" width="5" height="5" fill="#000" />
<rect x="672" y="97" width="1" height="19" fill="#000" />
<rect x="670" y="102" width="5" height="11" fill="#000" />
<rect x="680" y="109" width="1" height="16" fill="#000" />
<rect x="678" y="109" width="5" height="4" fill="#000" />
<rect x="679" y="110" width="3" height="2" fill="#fff" />
<rect x="688" y="125" width="1" height="35" fill="#000" />
<rect x="686" y="125" width="5" height="34" fill="#000" />
<rect x="696" y="143" width="1" height="24" fill="#000" />
<rect x="694" y="146" width="5" height="10" fill="#000" />
<rect x="695" y="147" width="3" height="8" fill="#fff" />
<rect x="704" y="140" width="1" height="29" fill="#000" />
<rect x="702" y="141" width="5" height="23" fill="#000" />
<rect x="712" y="157" width="1" height="19" fill="#000" />
<rect x="710" y="165" width="5" height="10" fill="#000" />
<rect x="720" y="134" width="1" height="40" fill="#000" />
<rect x="718" y="145" width="5" height="17" fill="#000" />
<rect x="719" y="146" width="3" height="15" fill="#fff" />
<rect x="728" y="95" width="1" height="29" fill="#000" />
<rect x="726" y="98" width="5" height="15" fill="#000" />
<rect x="727" y="99" width="3" height="13" fill="#fff" />
<rect x="736" y="85" width="1" height="14" fill="#000" />
<rect x="734" y="90" width="5" height="9" fill="#000" />
<rect x="735" y="91" width="3" height="7" fill="#fff" />
<rect x="744" y="87" width="1" height="19" fill="#000" />
<rect x="742" y="93" width="5" height="4" fill="#000" />
<rect x="752" y="89" width="1" height="14" fill="#000" />
<rect x="750" y="93" width="5" height="4" fill="#000" />
<rect x="760" y="88" width="1" height="30" fill="#000" />
<rect x="758" y="95" width="5" height="23" fill="#000" />
<rect x="768" y="100" width="1" height="21" fill="#000" />
<rect x="766" y="106" width="5" height="11" fill="#000" />
<rect x="767" y="107" width="3" height="9" fill="#fff" />
<rect x="776" y="67" width="1" height="13" fill="#000" />
<rect x="774" y="70" width="5" height="9" fill="#000" />
<rect x="775" y="71" width="3" height="7" fill="#fff" />
<rect x="784" y="63" width="1" height="12" fill="#000" />
<rect x="782" y="68" width="5" height="1" fill="#000" />
<rect x="792" y="50" width="1" height="33" fill="#000" />
<rect x="790" y="53" width="5" height="25" fill="#000" />
<rect x="800" y="55" width="1" height="23" fill="#000" />
<rect x="798" y="56" width="5" height="22" fill="#000" />
<rect x="799" y="57" width="3" height="20" fill="#fff" />
<rect x="808" y="60" width="1" height="16" fill="#000" />
<rect x="806" y="61" width="5" height="11" fill="#000" />
<rect x="807" y="62" width="3" height="9" fill="#fff" />
<rect x="816" y="62" width="1" height="14" fill="#000" />
<rect x="814" y="65" width="5" height="2" fill="#000" />
<rect x="824" y="75" width="1" height="21" fill="#000" />
<rect x="822" y="82" width="5" height="5" fill="#000" />
<rect x="832" y="82" width="1" height="17" fill="#000" />
<rect x="830" y="85" width="5" height="14" fill="#000" />
<rect x="840" y="88" width="1" height="16" fill="#000" />
<rect x="838" y="98" width="5" height="4" fill="#000" />
<rect x="848" y="91" width="1" height="24" fill="#000" />
<rect x="846" y="93" width="5" height="9" fill="#000" />
<rect x="847" y="94" width="3" height="7" fill="#fff" />
<rect x="856" y="75" width="1" height="17" fill="#000" />
<rect x="854" y="80" width="5" height="3" fill="#000" />
<rect x="855" y="81" width="3" height="1" fill="#fff" />
<rect x="864" y="74" width="1" height="12" fill="#000" />
<rect x="862" y="77" width="5" height="3" fill="#000" />
<rect x="863" y="78" width="3" height="1" fill="#fff" />
<rect x="872" y="65" width="1" height="25" fill="#000" />
<rect x="870" y="76" width="5" height="14" fill="#000" />
<rect x="880" y="69" width="1" height="24" fill="#000" />
<rect x="878" y="77" width="5" height="11" fill="#000" />
<rect x="879" y="78" width="3" height="9" fill="#fff" />
<rect x="888" y="73" width="1" height="17" fill="#000" />
<rect x="886" y="78" width="5" height="8" fill="#000" />
<rect x="887" y="79" width="3" height="6" fill="#fff" />
<rect x="896" y="75" width="1" height="36" fill="#000" />
<rect x="894" y="78" width="5" height="29" fill="#000" />
<rect x="904" y="113" width="1" height="16" fill="#000" />
<rect x="902" y="118" width="5" height="3" fill="#000" />
<rect x="903" y="119" width="3" height="1" fill="#fff" />
<rect x="912" y="115" width="1" height="17" fill="#000" />
<rect x="910" y="117" width="5" height="2" fill="#000" />
<rect x="920" y="141" width="1" height="40" fill="#000" />
<rect x="918" y="141" width="5" height="31" fill="#000" />
<rect x="928" y="160" width="1" height="19" fill="#000" />
<rect x="926" y="163" width="5" height="8" fill="#000" />
<rect x="927" y="164" width="3" height="6" fill="#fff" />
<rect x="936" y="153" width="1" height="14" fill="#000" />
<rect x="934" y="154" width="5" height="9" fill="#000" />
<rect x="935" y="155" width="3" height="7" fill="#fff" />
<rect x="944" y="150" width="1" height="9" fill="#000" />
<rect x="942" y="154" width="5" height="2" fill="#000" />
<rect x="952" y="183" width="1" height="42" fill="#000" />
<rect x="950" y="193" width="5" height="26" fill="#000" />
<rect x="960" y="212" width="1" height="17" fill="#000" />
<rect x="958" y="215" width="5" height="7" fill="#000" />
<rect x="968" y="209" width="1" height="24" fill="#000" />
<rect x="966" y="213" width="5" height="8" fill="#000" />
<rect x="976" y="218" width="1" height="17" fill="#000" />
<rect x="974" y="222" width="5" height="12" fill="#000" />
<rect x="984" y="225" width="1" height="32" fill="#000" />
<rect x="982" y="230" width="5" height="24" fill="#000" />
<rect x="992" y="228" width="1" height="28" fill="#000" />
<rect x="990" y="231" width="5" height="24" fill="#000" />
<rect x="991" y="232" width="3" height="22" fill="#fff" />
<rect x="1000" y="224" width="1" height="17" fill="#000" />
<rect x="998" y="224" width="5" height="11" fill="#000" />
<rect x="1008" y="216" width="1" height="27" fill="#000" />
<rect x="1006" y="235" width="5" height="5" fill="#000" />
<rect x="1016" y="234" width="1" height="19" fill="#000" />
<rect x="1014" y="247" width="5" height="1" fill="#000" />
<rect x="1024" y="244" width="1" height="20" fill="#000" />
<rect x="1022" y="247" width="5" height="11" fill="#000" />
<rect x="1032" y="248" width="1" height="12" fill="#000" />
<rect x="1030" y="254" width="5" height="4" fill="#000" />
<rect x="1031" y="255" width="3" height="2" fill="#fff" />
<rect x="1040" y="249" width="1" height="10" fill="#000" />
<rect x="1038" y="253" width="5" height="2" fill="#000" />
<rect x="1048" y="285" width="1" height="18" fill="#000" />
<rect x="1046" y="297" width="5" height="3" fill="#000" />
<rect x="1047" y="298" width="3" height="1" fill="#fff" />
<rect x="1056" y="286" width="1" height="14" fill="#000" />
<rect x="1054" y="293" width="5" height="4" fill="#000" />
<rect x="1055" y="294" width="3" height="2" fill="#fff" />
<rect x="1064" y="327" width="1" height="50" fill="#000" />
<rect x="1062" y="327" width="5" height="23" fill="#000" />
<rect x="1072" y="336" width="1" height="30" fill="#000" />
<rect x="1070" y="348" width="5" height="16" fill="#000" />
<rect x="1080" y="338" width="1" height="32" fill="#000" />
<rect x="1078" y="363" width="5" height="1" fill="#000" />
<rect x="1088" y="354" width="1" height="36" fill="#000" />
<rect x="1086" y="366" width="5" height="2" fill="#000" />
<rect x="1096" y="360" width="1" height="57" fill="#000" />
<rect x="1094" y="364" width="5" height="48" fill="#000" />
<rect x="1104" y="382" width="1" height="46" fill="#000" />
<rect x="1102" y="392" width="5" height="15" fill="#000" />
<rect x="1103" y="393" width="3" height="13" fill="#fff" />
<rect x="1112" y="349" width="1" height="28" fill="#000" />
<rect x="1110" y="356" width="5" height="11" fill="#000" />
<rect x="1120" y="364" width="1" height="17" fill="#000" />
<rect x="1118" y="368" width="5" height="5" fill="#000" />
<rect x="1128" y="400" width="1" height="26" fill="#000" />
<rect x="1126" y="405" width="5" height="11" fill="#000" />
<rect x="1136" y="372" width="1" height="53" fill="#000" />
<rect x="1134" y="394" width="5" height="24" fill="#000" />
<rect x="1135" y="395" width="3" height="22" fill="#fff" />
<rect x="1144" y="414" width="1" height="39" fill="#000" />
<rect x="1142" y="430" width="5" height="20" fill="#000" />
<rect x="1152" y="438" width="1" height="36" fill="#000" />
<rect x="1150" y="449" width="5" height="15" fill="#000" />
<rect x="1160" y="476" width="1" height="63" fill="#000" />
<rect x="1158" y="502" width="5" height="8" fill="#000" />
<rect x="1168" y="508" width="1" height="56" fill="#000" />
<rect x="1166" y="509" width="5" height="50" fill="#000" />
<rect x="1176" y="501" width="1" height="39" fill="#000" />
<rect x="1174" y="510" width="5" height="7" fill="#000" />
<rect x="1184" y="413" width="1" height="103" fill="#000" />
<rect x="1182" y="423" width="5" height="92" fill="#000" />
<rect x="1183" y="424" width="3" height="90" fill="#fff" />
<rect x="1192" y="319" width="1" height="56" fill="#000" />
<rect x="1190" y="340" width="5" height="2" fill="#000" />
<rect x="1200" y="315" width="1" height="38" fill="#000" />
<rect x="1198" y="322" width="5" height="14" fill="#000" />
<rect x="1199" y="323" width="3" height="12" fill="#fff" />
<rect x="1208" y="335" width="1" height="28" fill="#000" />
<rect x="1206" y="345" width="5" height="13" fill="#000" />
<rect x="1216" y="308" width="1" height="51" fill="#000" />
<rect x="1214" y="324" width="5" height="32" fill="#000" />
<rect x="1215" y="325" width="3" height="30" fill="#fff" />
<rect x="1224" y="283" width="1" height="50" fill="#000" />
<rect x="1222" y="284" width="5" height="46" fill="#000" />
<rect x="1232" y="327" width="1" height="25" fill="#000" />
<rect x="1230" y="329" width="5" height="10" fill="#000" />
<rect x="1240" y="319" width="1" height="18" fill="#000" />
<rect x="1238" y="324" width="5" height="9" fill="#000" />
<rect x="1239" y="325" width="3" height="7" fill="#fff" />
<rect x="1248" y="284" width="1" height="44" fill="#000" />
<rect x="1246" y="287" width="5" height="37" fill="#000" />
<rect x="1247" y="288" width="3" height="35" fill="#fff" />
<rect x="1256" y="251" width="1" height="33" fill="#000" />
<rect x="1254" y="263" width="5" height="13" fill="#000" />
<rect x="1255" y="264" width="3" height="11" fill="#fff" />
<rect x="1264" y="258" width="1" height="21" fill="#000" />
<rect x="1262" y="262" width="5" height="11" fill="#000" />
<rect x="1272" y="267" width="1" height="23" fill="#000" />
<rect x="1270" y="267" width="5" height="23" fill="#000" />
<rect x="1271" y="268" width="3" height="21" fill="#fff" />
<rect x="1280" y="264" width="1" height="28" fill="#000" />
<rect x="1278" y="266" width="5" height="21" fill="#000" />
<rect x="1288" y="285" width="1" height="33" fill="#000" />
<rect x="1286" y="300" width="5" height="12" fill="#000" />
<rect x="1296" y="308" width="1" height="28" fill="#000" />
<rect x="1294" y="309" width="5" height="21" fill="#000" />
<rect x="1304" y="296" width="1" height="46" fill="#000" />
<rect x="1302" y="305" width="5" height="13" fill="#000" />
<rect x="1303" y="306" width="3" height="11" fill="#fff" />
<rect x="1312" y="298" width="1" height="19" fill="#000" />
<rect x="1310" y="299" width="5" height="5" fill="#000" />
<rect x="1311" y="300" width="3" height="3" fill="#fff" />
<rect x="1320" y="287" width="1" height="18" fill="#000" />
<rect x="1318" y="297" width="5" height="2" fill="#000" />
<rect x="1328" y="285" width="1" height="16" fill="#000" />
<rect x="1326" y="286" width="5" height="13" fill="#000" />
<rect x="1327" y="287" width="3" height="11" fill="#fff" />
<rect x="1336" y="257" width="1" height="22" fill="#000" />
<rect x="1334" y="268" width="5" height="1" fill="#000" />
<rect x="1344" y="252" width="1" height="18" fill="#000" />
<rect x="1342" y="269" width="5" height="1" fill="#000" />
<rect x="1352" y="259" width="1" height="29" fill="#000" />
<rect x="1350" y="262" width="5" height="18" fill="#000" />
<rect x="1360" y="270" width="1" height="17" fill="#000" />
<rect x="1358" y="279" width="5" height="4" fill="#000" />
<rect x="1368" y="287" width="1" height="29" fill="#000" />
<rect x="1366" y="293" width="5" height="10" fill="#000" />
<rect x="1367" y="294" width="3" height="8" fill="#fff" />
<rect x="1376" y="276" width="1" height="25" fill="#000" />
<rect x="1374" y="280" width="5" height="14" fill="#000" />
<rect x="1375" y="281" width="3" height="12" fill="#fff" />
<rect x="1384" y="251" width="1" height="22" fill="#000" />
<rect x="1382" y="256" width="5" height="9" fill="#000" />
<rect x="1383" y="257" width="3" height="7" fill="#fff" />
<rect x="1392" y="241" width="1" height="17" fill="#000" />
<rect x="1390" y="245" width="5" height="13" fill="#000" />
<rect x="1391" y="246" width="3" height="11" fill="#fff" />
<rect x="1400" y="259" width="1" height="22" fill="#000" />
<rect x="1398" y="262" width="5" height="6" fill="#000" />
<rect x="1408" y="262" width="1" height="20" fill="#000" />
<rect x="1406" y="267" width="5" height="8" fill="#000" />
<rect x="1416" y="264" width="1" height="35" fill="#000" />
<rect x="1414" y="291" width="5" height="8" fill="#000" />
<rect x="1424" y="283" width="1" height="18" fill="#000" />
<rect x="1422" y="296" width="5" height="3" fill="#000" />
<rect x="1423" y="297" width="3" height="1" fill="#fff" />
</g>
</g>
<g shape-rendering="crispEdges">
<rect x="1646" y="250" width="5" height="5" fill="#ff0000" />
<rect x="1647" y="251" width="3" height="3" fill="#fff" />
<rect x="1646" y="281" width="5" height="5" fill="#32cd32" />
<rect x="1647" y="282" width="3" height="3" fill="#fff" />
<rect x="1646" y="355" width="5" height="5" fill="#0000ff" />
<rect x="1647" y="356" width="3" height="3" fill="#fff" />
</g>
<g shape-rendering="crispEdges">
<rect x="783" y="50" width="10" height="1" fill="#ff0000" />
<rect x="1089" y="283" width="8" height="1" fill="#ff0000" />
<rect x="1096" y="282" width="3" height="3" fill="#ff0000" />
<rect x="1097" y="283" width="1" height="1" fill="#fff" />
<rect x="1247" y="250" width="10" height="1" fill="#ff0000" />
<rect x="1256" y="250" width="1" height="1" fill="#ff0000" />
<rect x="1383" y="240" width="10" height="1" fill="#ff0000" />
<rect x="1392" y="240" width="1" height="2" fill="#ff0000" />
<rect x="1296" y="336" width="11" height="1" fill="#ff0000" />
<rect x="1159" y="563" width="9" height="1" fill="#ff0000" />
</g>
<rect x="721.5" y="41.5" width="61" height="18" fill="#fff" stroke="#ff0000" stroke-width="1" shape-rendering="crispEdges"/>
<text x="752.0" y="56.8" font-size="16" fill="#ff0000" text-anchor="middle" font-weight="normal" >25058.8</text>
<rect x="1099.5" y="271.5" width="73" height="24" fill="#fff" stroke="#ff0000" stroke-width="1" shape-rendering="crispEdges"/>
<text x="1136.0" y="291.6" font-size="21" fill="#ff0000" text-anchor="middle" font-weight="normal" textLength="69.5" lengthAdjust="spacingAndGlyphs">21966.0</text>
<rect x="1185.5" y="241.5" width="61" height="18" fill="#fff" stroke="#ff0000" stroke-width="1" shape-rendering="crispEdges"/>
<text x="1216.0" y="256.8" font-size="16" fill="#ff0000" text-anchor="middle" font-weight="normal" >22400.5</text>
<rect x="1321.5" y="231.5" width="61" height="18" fill="#fff" stroke="#ff0000" stroke-width="1" shape-rendering="crispEdges"/>
<text x="1352.0" y="246.8" font-size="16" fill="#ff0000" text-anchor="middle" font-weight="normal" >22536.8</text>
<rect x="1307.5" y="327.5" width="60" height="18" fill="#fff" stroke="#ff0000" stroke-width="1" shape-rendering="crispEdges"/>
<text x="1337.5" y="342.8" font-size="16" fill="#ff0000" text-anchor="middle" font-weight="normal" >21260.7</text>
<rect x="1097.5" y="554.5" width="61" height="18" fill="#fff" stroke="#ff0000" stroke-width="1" shape-rendering="crispEdges"/>
<text x="1128.0" y="569.8" font-size="16" fill="#ff0000" text-anchor="middle" font-weight="normal" >18236.0</text>
<line x1="1383.0" y1="246.5" x2="1438.7" y2="301.3" stroke="#ff0000" stroke-width="3" stroke-linecap="round"/>
<polygon points="1444.8,307.3 1434.1,303.2 1439.2,301.8 1440.5,296.7" fill="#ff0000"/>
<line x1="1369.0" y1="598.5" x2="1430.6" y2="605.6" stroke="#ff0000" stroke-width="3" stroke-linecap="round"/>
<polygon points="1438.5,606.5 1428.1,609.5 1431.0,605.6 1429.0,601.2" fill="#ff0000"/>
<line x1="1378.0" y1="809.5" x2="1418.7" y2="834.3" stroke="#ff0000" stroke-width="3" stroke-linecap="round"/>
<polygon points="1425.5,838.5 1414.8,836.9 1419.1,834.6 1419.2,829.7" fill="#ff0000"/>
<polygon points="1429,25 1441,25 1435,30.5" fill="#b4b4b4"/>
<text transform="translate(7,35.5) scale(0.9118,1)" font-size="10.2" fill="#000" text-anchor="start" font-weight="normal"  text-rendering="geometricPrecision" stroke="#000" stroke-width="0.22">HK50-,H4&#160;&#160;21767.0 21948.0 21741.5 21796.0</text>
<polygon points="0,32.8 2.4,35.4 0,35.4" fill="#000"/>
<g shape-rendering="crispEdges">
<rect x="0" y="24" width="1652" height="1" fill="#000" />
<rect x="1651" y="24" width="1" height="902" fill="#000" />
<rect x="0" y="577" width="1652" height="1" fill="#000" />
<rect x="0" y="579" width="1652" height="1" fill="#000" />
<rect x="0" y="749" width="1652" height="1" fill="#000" />
<rect x="0" y="751" width="1652" height="1" fill="#000" />
<rect x="0" y="925" width="1652" height="1" fill="#000" />
<rect x="1651" y="578" width="1" height="1" fill="#fff" />
<rect x="1651" y="750" width="1" height="1" fill="#fff" />
</g>
<g shape-rendering="crispEdges">
<rect x="1652" y="46" width="2" height="1" fill="#000" />
<rect x="1652" y="79" width="2" height="1" fill="#000" />
<rect x="1652" y="112" width="2" height="1" fill="#000" />
<rect x="1652" y="145" width="2" height="1" fill="#000" />
<rect x="1652" y="178" width="2" height="1" fill="#000" />
<rect x="1652" y="211" width="2" height="1" fill="#000" />
<rect x="1652" y="244" width="2" height="1" fill="#000" />
<rect x="1652" y="277" width="2" height="1" fill="#000" />
<rect x="1652" y="310" width="2" height="1" fill="#000" />
<rect x="1652" y="343" width="2" height="1" fill="#000" />
<rect x="1652" y="376" width="2" height="1" fill="#000" />
<rect x="1652" y="409" width="2" height="1" fill="#000" />
<rect x="1652" y="442" width="2" height="1" fill="#000" />
<rect x="1652" y="475" width="2" height="1" fill="#000" />
<rect x="1652" y="508" width="2" height="1" fill="#000" />
<rect x="1652" y="541" width="2" height="1" fill="#000" />
<rect x="1652" y="574" width="2" height="1" fill="#000" />
</g>
<text transform="translate(1657,49.9) scale(0.9118,1)" font-size="10.2" fill="#000" text-anchor="start" font-weight="normal"  text-rendering="geometricPrecision" stroke="#000" stroke-width="0.22">25122.0</text>
<text transform="translate(1657,82.9) scale(0.9118,1)" font-size="10.2" fill="#000" text-anchor="start" font-weight="normal"  text-rendering="geometricPrecision" stroke="#000" stroke-width="0.22">24680.0</text>
<text transform="translate(1657,115.9) scale(0.9118,1)" font-size="10.2" fill="#000" text-anchor="start" font-weight="normal"  text-rendering="geometricPrecision" stroke="#000" stroke-width="0.22">24238.0</text>
<text transform="translate(1657,148.9) scale(0.9118,1)" font-size="10.2" fill="#000" text-anchor="start" font-weight="normal"  text-rendering="geometricPrecision" stroke="#000" stroke-width="0.22">23796.0</text>
<text transform="translate(1657,181.9) scale(0.9118,1)" font-size="10.2" fill="#000" text-anchor="start" font-weight="normal"  text-rendering="geometricPrecision" stroke="#000" stroke-width="0.22">23367.0</text>
<text transform="translate(1657,214.9) scale(0.9118,1)" font-size="10.2" fill="#000" text-anchor="start" font-weight="normal"  text-rendering="geometricPrecision" stroke="#000" stroke-width="0.22">22925.0</text>
<text transform="translate(1657,247.9) scale(0.9118,1)" font-size="10.2" fill="#000" text-anchor="start" font-weight="normal"  text-rendering="geometricPrecision" stroke="#000" stroke-width="0.22">22483.0</text>
<text transform="translate(1657,280.9) scale(0.9118,1)" font-size="10.2" fill="#000" text-anchor="start" font-weight="normal"  text-rendering="geometricPrecision" stroke="#000" stroke-width="0.22">22041.0</text>
<text transform="translate(1657,313.9) scale(0.9118,1)" font-size="10.2" fill="#000" text-anchor="start" font-weight="normal"  text-rendering="geometricPrecision" stroke="#000" stroke-width="0.22">21612.0</text>
<text transform="translate(1657,346.9) scale(0.9118,1)" font-size="10.2" fill="#000" text-anchor="start" font-weight="normal"  text-rendering="geometricPrecision" stroke="#000" stroke-width="0.22">21170.0</text>
<text transform="translate(1657,379.9) scale(0.9118,1)" font-size="10.2" fill="#000" text-anchor="start" font-weight="normal"  text-rendering="geometricPrecision" stroke="#000" stroke-width="0.22">20728.0</text>
<text transform="translate(1657,412.9) scale(0.9118,1)" font-size="10.2" fill="#000" text-anchor="start" font-weight="normal"  text-rendering="geometricPrecision" stroke="#000" stroke-width="0.22">20286.0</text>
<text transform="translate(1657,445.9) scale(0.9118,1)" font-size="10.2" fill="#000" text-anchor="start" font-weight="normal"  text-rendering="geometricPrecision" stroke="#000" stroke-width="0.22">19857.0</text>
<text transform="translate(1657,478.9) scale(0.9118,1)" font-size="10.2" fill="#000" text-anchor="start" font-weight="normal"  text-rendering="geometricPrecision" stroke="#000" stroke-width="0.22">19415.0</text>
<text transform="translate(1657,511.9) scale(0.9118,1)" font-size="10.2" fill="#000" text-anchor="start" font-weight="normal"  text-rendering="geometricPrecision" stroke="#000" stroke-width="0.22">18973.0</text>
<text transform="translate(1657,544.9) scale(0.9118,1)" font-size="10.2" fill="#000" text-anchor="start" font-weight="normal"  text-rendering="geometricPrecision" stroke="#000" stroke-width="0.22">18531.0</text>
<text transform="translate(1657,577.9) scale(0.9118,1)" font-size="10.2" fill="#000" text-anchor="start" font-weight="normal"  text-rendering="geometricPrecision" stroke="#000" stroke-width="0.22">18102.0</text>
<g shape-rendering="crispEdges">
<rect x="1653" y="209" width="41" height="11" fill="#ff0000" />
<rect x="1653" y="246" width="41" height="11" fill="#ff0000" />
<rect x="1653" y="277" width="41" height="11" fill="#32cd32" />
<rect x="1653" y="291" width="41" height="11" fill="#000000" />
<rect x="1653" y="320" width="41" height="11" fill="#0000ff" />
<rect x="1653" y="351" width="41" height="11" fill="#0000ff" />
</g>
<text transform="translate(1657,217.9) scale(0.9118,1)" font-size="10.2" fill="#fff" text-anchor="start" font-weight="normal"  text-rendering="geometricPrecision" stroke="#fff" stroke-width="0.22">22868.7</text>
<text transform="translate(1657,254.9) scale(0.9118,1)" font-size="10.2" fill="#fff" text-anchor="start" font-weight="normal"  text-rendering="geometricPrecision" stroke="#fff" stroke-width="0.22">22377.5</text>
<text transform="translate(1657,285.9) scale(0.9118,1)" font-size="10.2" fill="#fff" text-anchor="start" font-weight="normal"  text-rendering="geometricPrecision" stroke="#fff" stroke-width="0.22">21966.0</text>
<text transform="translate(1657,299.9) scale(0.9118,1)" font-size="10.2" fill="#fff" text-anchor="start" font-weight="normal"  text-rendering="geometricPrecision" stroke="#fff" stroke-width="0.22">21796.0</text>
<text transform="translate(1657,328.9) scale(0.9118,1)" font-size="10.2" fill="#fff" text-anchor="start" font-weight="normal"  text-rendering="geometricPrecision" stroke="#fff" stroke-width="0.22">21395.1</text>
<text transform="translate(1657,359.9) scale(0.9118,1)" font-size="10.2" fill="#fff" text-anchor="start" font-weight="normal"  text-rendering="geometricPrecision" stroke="#fff" stroke-width="0.22">20983.6</text>
<g clip-path="url(#c2)">
<g shape-rendering="crispEdges">
<rect x="0" y="624" width="1" height="16" fill="#c0c0c0" />
<rect x="8" y="624" width="1" height="16" fill="#c0c0c0" />
<rect x="16" y="624" width="1" height="20" fill="#c0c0c0" />
<rect x="24" y="624" width="1" height="26" fill="#c0c0c0" />
<rect x="32" y="624" width="1" height="30" fill="#c0c0c0" />
<rect x="40" y="624" width="1" height="35" fill="#c0c0c0" />
<rect x="48" y="624" width="1" height="41" fill="#c0c0c0" />
<rect x="56" y="624" width="1" height="45" fill="#c0c0c0" />
<rect x="64" y="624" width="1" height="45" fill="#c0c0c0" />
<rect x="72" y="624" width="1" height="46" fill="#c0c0c0" />
<rect x="80" y="624" width="1" height="45" fill="#c0c0c0" />
<rect x="88" y="624" width="1" height="44" fill="#c0c0c0" />
<rect x="96" y="624" width="1" height="44" fill="#c0c0c0" />
<rect x="104" y="624" width="1" height="43" fill="#c0c0c0" />
<rect x="112" y="624" width="1" height="42" fill="#c0c0c0" />
<rect x="120" y="624" width="1" height="43" fill="#c0c0c0" />
<rect x="128" y="624" width="1" height="41" fill="#c0c0c0" />
<rect x="136" y="624" width="1" height="35" fill="#c0c0c0" />
<rect x="144" y="624" width="1" height="31" fill="#c0c0c0" />
<rect x="152" y="624" width="1" height="27" fill="#c0c0c0" />
<rect x="160" y="624" width="1" height="21" fill="#c0c0c0" />
<rect x="168" y="624" width="1" height="17" fill="#c0c0c0" />
<rect x="176" y="624" width="1" height="14" fill="#c0c0c0" />
<rect x="184" y="624" width="1" height="13" fill="#c0c0c0" />
<rect x="192" y="624" width="1" height="10" fill="#c0c0c0" />
<rect x="200" y="624" width="1" height="9" fill="#c0c0c0" />
<rect x="208" y="624" width="1" height="11" fill="#c0c0c0" />
<rect x="216" y="624" width="1" height="14" fill="#c0c0c0" />
<rect x="224" y="624" width="1" height="15" fill="#c0c0c0" />
<rect x="232" y="624" width="1" height="18" fill="#c0c0c0" />
<rect x="240" y="624" width="1" height="22" fill="#c0c0c0" />
<rect x="248" y="624" width="1" height="22" fill="#c0c0c0" />
<rect x="256" y="624" width="1" height="25" fill="#c0c0c0" />
<rect x="264" y="624" width="1" height="27" fill="#c0c0c0" />
<rect x="272" y="624" width="1" height="31" fill="#c0c0c0" />
<rect x="280" y="624" width="1" height="35" fill="#c0c0c0" />
<rect x="288" y="624" width="1" height="36" fill="#c0c0c0" />
<rect x="296" y="624" width="1" height="37" fill="#c0c0c0" />
<rect x="304" y="624" width="1" height="35" fill="#c0c0c0" />
<rect x="312" y="624" width="1" height="34" fill="#c0c0c0" />
<rect x="320" y="624" width="1" height="31" fill="#c0c0c0" />
<rect x="328" y="624" width="1" height="29" fill="#c0c0c0" />
<rect x="336" y="624" width="1" height="26" fill="#c0c0c0" />
<rect x="344" y="624" width="1" height="23" fill="#c0c0c0" />
<rect x="352" y="624" width="1" height="20" fill="#c0c0c0" />
<rect x="360" y="624" width="1" height="20" fill="#c0c0c0" />
<rect x="368" y="624" width="1" height="20" fill="#c0c0c0" />
<rect x="376" y="624" width="1" height="18" fill="#c0c0c0" />
<rect x="384" y="624" width="1" height="18" fill="#c0c0c0" />
<rect x="392" y="624" width="1" height="14" fill="#c0c0c0" />
<rect x="400" y="624" width="1" height="13" fill="#c0c0c0" />
<rect x="408" y="624" width="1" height="11" fill="#c0c0c0" />
<rect x="416" y="624" width="1" height="11" fill="#c0c0c0" />
<rect x="424" y="624" width="1" height="9" fill="#c0c0c0" />
<rect x="432" y="624" width="1" height="10" fill="#c0c0c0" />
<rect x="440" y="624" width="1" height="12" fill="#c0c0c0" />
<rect x="448" y="624" width="1" height="13" fill="#c0c0c0" />
<rect x="456" y="624" width="1" height="13" fill="#c0c0c0" />
<rect x="464" y="624" width="1" height="11" fill="#c0c0c0" />
<rect x="472" y="624" width="1" height="7" fill="#c0c0c0" />
<rect x="480" y="624" width="1" height="2" fill="#c0c0c0" />
<rect x="488" y="623" width="1" height="2" fill="#c0c0c0" />
<rect x="496" y="619" width="1" height="6" fill="#c0c0c0" />
<rect x="504" y="617" width="1" height="8" fill="#c0c0c0" />
<rect x="512" y="610" width="1" height="15" fill="#c0c0c0" />
<rect x="520" y="605" width="1" height="20" fill="#c0c0c0" />
<rect x="528" y="599" width="1" height="26" fill="#c0c0c0" />
<rect x="536" y="595" width="1" height="30" fill="#c0c0c0" />
<rect x="544" y="595" width="1" height="30" fill="#c0c0c0" />
<rect x="552" y="593" width="1" height="32" fill="#c0c0c0" />
<rect x="560" y="594" width="1" height="31" fill="#c0c0c0" />
<rect x="568" y="595" width="1" height="30" fill="#c0c0c0" />
<rect x="576" y="597" width="1" height="28" fill="#c0c0c0" />
<rect x="584" y="599" width="1" height="26" fill="#c0c0c0" />
<rect x="592" y="600" width="1" height="25" fill="#c0c0c0" />
<rect x="600" y="602" width="1" height="23" fill="#c0c0c0" />
<rect x="608" y="598" width="1" height="27" fill="#c0c0c0" />
<rect x="616" y="593" width="1" height="32" fill="#c0c0c0" />
<rect x="624" y="591" width="1" height="34" fill="#c0c0c0" />
<rect x="632" y="589" width="1" height="36" fill="#c0c0c0" />
<rect x="640" y="590" width="1" height="35" fill="#c0c0c0" />
<rect x="648" y="591" width="1" height="34" fill="#c0c0c0" />
<rect x="656" y="595" width="1" height="30" fill="#c0c0c0" />
<rect x="664" y="600" width="1" height="25" fill="#c0c0c0" />
<rect x="672" y="604" width="1" height="21" fill="#c0c0c0" />
<rect x="680" y="606" width="1" height="19" fill="#c0c0c0" />
<rect x="688" y="615" width="1" height="10" fill="#c0c0c0" />
<rect x="696" y="620" width="1" height="5" fill="#c0c0c0" />
<rect x="704" y="624" width="1" height="1" fill="#c0c0c0" />
<rect x="712" y="624" width="1" height="7" fill="#c0c0c0" />
<rect x="720" y="624" width="1" height="8" fill="#c0c0c0" />
<rect x="728" y="624" width="1" height="3" fill="#c0c0c0" />
<rect x="736" y="624" width="1" height="1" fill="#c0c0c0" />
<rect x="744" y="622" width="1" height="3" fill="#c0c0c0" />
<rect x="752" y="619" width="1" height="6" fill="#c0c0c0" />
<rect x="760" y="619" width="1" height="6" fill="#c0c0c0" />
<rect x="768" y="619" width="1" height="6" fill="#c0c0c0" />
<rect x="776" y="614" width="1" height="11" fill="#c0c0c0" />
<rect x="784" y="610" width="1" height="15" fill="#c0c0c0" />
<rect x="792" y="609" width="1" height="16" fill="#c0c0c0" />
<rect x="800" y="605" width="1" height="20" fill="#c0c0c0" />
<rect x="808" y="603" width="1" height="22" fill="#c0c0c0" />
<rect x="816" y="602" width="1" height="23" fill="#c0c0c0" />
<rect x="824" y="604" width="1" height="21" fill="#c0c0c0" />
<rect x="832" y="608" width="1" height="17" fill="#c0c0c0" />
<rect x="840" y="611" width="1" height="14" fill="#c0c0c0" />
<rect x="848" y="612" width="1" height="13" fill="#c0c0c0" />
<rect x="856" y="612" width="1" height="13" fill="#c0c0c0" />
<rect x="864" y="612" width="1" height="13" fill="#c0c0c0" />
<rect x="872" y="613" width="1" height="12" fill="#c0c0c0" />
<rect x="880" y="613" width="1" height="12" fill="#c0c0c0" />
<rect x="888" y="613" width="1" height="12" fill="#c0c0c0" />
<rect x="896" y="617" width="1" height="8" fill="#c0c0c0" />
<rect x="904" y="621" width="1" height="4" fill="#c0c0c0" />
<rect x="912" y="624" width="1" height="1" fill="#c0c0c0" />
<rect x="920" y="624" width="1" height="9" fill="#c0c0c0" />
<rect x="928" y="624" width="1" height="15" fill="#c0c0c0" />
<rect x="936" y="624" width="1" height="18" fill="#c0c0c0" />
<rect x="944" y="624" width="1" height="21" fill="#c0c0c0" />
<rect x="952" y="624" width="1" height="30" fill="#c0c0c0" />
<rect x="960" y="624" width="1" height="38" fill="#c0c0c0" />
<rect x="968" y="624" width="1" height="43" fill="#c0c0c0" />
<rect x="976" y="624" width="1" height="48" fill="#c0c0c0" />
<rect x="984" y="624" width="1" height="54" fill="#c0c0c0" />
<rect x="992" y="624" width="1" height="55" fill="#c0c0c0" />
<rect x="1000" y="624" width="1" height="56" fill="#c0c0c0" />
<rect x="1008" y="624" width="1" height="57" fill="#c0c0c0" />
<rect x="1016" y="624" width="1" height="57" fill="#c0c0c0" />
<rect x="1024" y="624" width="1" height="59" fill="#c0c0c0" />
<rect x="1032" y="624" width="1" height="58" fill="#c0c0c0" />
<rect x="1040" y="624" width="1" height="58" fill="#c0c0c0" />
<rect x="1048" y="624" width="1" height="62" fill="#c0c0c0" />
<rect x="1056" y="624" width="1" height="64" fill="#c0c0c0" />
<rect x="1064" y="624" width="1" height="71" fill="#c0c0c0" />
<rect x="1072" y="624" width="1" height="78" fill="#c0c0c0" />
<rect x="1080" y="624" width="1" height="82" fill="#c0c0c0" />
<rect x="1088" y="624" width="1" height="85" fill="#c0c0c0" />
<rect x="1096" y="624" width="1" height="92" fill="#c0c0c0" />
<rect x="1104" y="624" width="1" height="94" fill="#c0c0c0" />
<rect x="1112" y="624" width="1" height="91" fill="#c0c0c0" />
<rect x="1120" y="624" width="1" height="89" fill="#c0c0c0" />
<rect x="1128" y="624" width="1" height="91" fill="#c0c0c0" />
<rect x="1136" y="624" width="1" height="89" fill="#c0c0c0" />
<rect x="1144" y="624" width="1" height="93" fill="#c0c0c0" />
<rect x="1152" y="624" width="1" height="97" fill="#c0c0c0" />
<rect x="1160" y="624" width="1" height="104" fill="#c0c0c0" />
<rect x="1168" y="624" width="1" height="115" fill="#c0c0c0" />
<rect x="1176" y="624" width="1" height="117" fill="#c0c0c0" />
<rect x="1184" y="624" width="1" height="106" fill="#c0c0c0" />
<rect x="1192" y="624" width="1" height="86" fill="#c0c0c0" />
<rect x="1200" y="624" width="1" height="67" fill="#c0c0c0" />
<rect x="1208" y="624" width="1" height="56" fill="#c0c0c0" />
<rect x="1216" y="624" width="1" height="43" fill="#c0c0c0" />
<rect x="1224" y="624" width="1" height="33" fill="#c0c0c0" />
<rect x="1232" y="624" width="1" height="25" fill="#c0c0c0" />
<rect x="1240" y="624" width="1" height="18" fill="#c0c0c0" />
<rect x="1248" y="624" width="1" height="7" fill="#c0c0c0" />
<rect x="1256" y="621" width="1" height="4" fill="#c0c0c0" />
<rect x="1264" y="613" width="1" height="12" fill="#c0c0c0" />
<rect x="1272" y="607" width="1" height="18" fill="#c0c0c0" />
<rect x="1280" y="604" width="1" height="21" fill="#c0c0c0" />
<rect x="1288" y="605" width="1" height="20" fill="#c0c0c0" />
<rect x="1296" y="608" width="1" height="17" fill="#c0c0c0" />
<rect x="1304" y="608" width="1" height="17" fill="#c0c0c0" />
<rect x="1312" y="608" width="1" height="17" fill="#c0c0c0" />
<rect x="1320" y="607" width="1" height="18" fill="#c0c0c0" />
<rect x="1328" y="606" width="1" height="19" fill="#c0c0c0" />
<rect x="1336" y="603" width="1" height="22" fill="#c0c0c0" />
<rect x="1344" y="600" width="1" height="25" fill="#c0c0c0" />
<rect x="1352" y="600" width="1" height="25" fill="#c0c0c0" />
<rect x="1360" y="601" width="1" height="24" fill="#c0c0c0" />
<rect x="1368" y="603" width="1" height="22" fill="#c0c0c0" />
<rect x="1376" y="602" width="1" height="23" fill="#c0c0c0" />
<rect x="1384" y="600" width="1" height="25" fill="#c0c0c0" />
<rect x="1392" y="598" width="1" height="27" fill="#c0c0c0" />
<rect x="1400" y="599" width="1" height="26" fill="#c0c0c0" />
<rect x="1408" y="601" width="1" height="24" fill="#c0c0c0" />
<rect x="1416" y="605" width="1" height="20" fill="#c0c0c0" />
<rect x="1424" y="608" width="1" height="17" fill="#c0c0c0" />
<path d="M654,593h3M660,593h3M666,593h2M637,594h2M642,594h3M648,594h3M668,594h1M672,594h3M588,595h3M594,595h3M600,595h1M624,595h3M630,595h3M636,595h1M678,595h3M577,596h2M582,596h3M601,596h2M606,596h3M612,596h3M618,596h3M684,596h2M576,597h1M686,597h1M570,598h3M690,598h2M692,599h1M564,600h3M696,600h2M1400,600h3M1406,600h3M1412,600h3M1418,600h3M698,601h1M1394,601h3M1424,601h2M559,602h2M1382,602h3M1388,602h3M558,603h1M702,603h2M1364,603h3M1370,603h3M1376,603h3M552,604h3M704,604h1M1346,604h3M1352,604h3M1358,604h3M1334,605h3M1340,605h3M548,606h1M708,606h1M841,606h2M846,606h3M852,606h3M858,606h3M1328,606h3M546,607h2M709,607h2M830,607h1M834,607h3M840,607h1M864,607h3M870,607h3M1324,607h1M824,608h1M828,608h2M876,608h3M1322,608h2M822,609h2M882,609h3M1317,609h2M541,610h2M714,610h1M816,610h3M888,610h3M1316,610h1M540,611h1M715,611h2M894,611h3M1312,611h1M810,612h3M900,612h3M1310,612h2M536,613h1M806,613h1M906,613h3M535,614h1M720,614h2M800,614h1M804,614h2M912,614h2M1306,614h1M534,615h1M722,615h1M798,615h2M914,615h1M1304,615h2M726,616h2M794,616h1M918,616h1M530,617h1M728,617h1M792,617h2M919,617h2M1300,617h1M528,618h2M732,618h2M924,618h1M1298,618h2M734,619h1M788,619h1M925,619h2M524,620h1M738,620h2M786,620h2M522,621h2M740,621h1M781,621h2M930,621h2M1293,621h2M744,622h3M774,622h3M780,622h1M932,622h1M1292,622h1M518,623h1M750,623h3M763,623h2M768,623h3M936,623h1M516,624h2M756,624h3M762,624h1M937,624h2M1288,625h1M512,626h1M942,626h1M1287,626h1M510,627h2M943,627h2M1286,627h1M505,628h2M504,629h1M498,630h3M948,630h2M1282,630h1M494,631h1M950,631h1M1281,631h1M0,632h3M492,632h2M1280,632h1M6,633h3M486,633h3M954,633h1M12,634h1M480,634h3M955,634h1M13,635h2M474,635h3M956,635h1M445,636h2M450,636h3M456,636h3M462,636h3M468,636h3M1276,636h1M18,637h3M229,637h2M234,637h3M438,637h3M444,637h1M1275,637h1M216,638h3M222,638h3M228,638h1M240,638h3M428,638h1M432,638h3M960,638h1M1274,638h1M24,639h2M246,639h3M252,639h2M420,639h3M426,639h2M961,639h2M26,640h1M210,640h3M254,640h1M258,640h2M414,640h3M30,641h1M260,641h1M409,641h2M31,642h2M204,642h3M264,642h3M404,642h1M408,642h1M966,642h1M1270,642h1M36,643h1M398,643h1M402,643h2M967,643h2M1270,643h1M37,644h2M198,644h3M270,644h2M396,644h2M1269,644h1M272,645h1M390,645h3M42,646h3M194,646h1M276,646h1M385,646h2M972,646h2M192,647h2M277,647h2M384,647h1M974,647h1M48,648h2M282,648h2M378,648h3M1265,648h1M50,649h1M188,649h1M284,649h1M373,649h2M978,649h1M1265,649h1M54,650h1M186,650h2M288,650h3M368,650h1M372,650h1M979,650h1M1264,650h1M55,651h2M294,651h1M362,651h1M366,651h2M980,651h1M180,652h3M295,652h2M360,652h2M60,653h3M300,653h3M355,653h2M174,654h3M306,654h3M354,654h1M984,654h1M1261,654h1M66,655h2M312,655h3M318,655h1M348,655h3M985,655h2M1261,655h1M68,656h1M169,656h2M319,656h2M324,656h3M336,656h3M342,656h3M1260,656h1M168,657h1M330,657h3M72,658h2M164,658h1M990,658h1M74,659h1M162,659h2M991,659h2M78,660h1M1257,660h1M79,661h2M156,661h3M1257,661h1M84,662h1M996,662h2M1256,662h1M85,663h2M150,663h3M998,663h1M90,664h2M146,664h1M92,665h1M140,665h1M144,665h2M1002,665h2M96,666h3M134,666h1M138,666h2M1004,666h1M1253,666h1M102,667h3M108,667h2M128,667h1M132,667h2M1253,667h1M110,668h1M114,668h3M120,668h3M126,668h2M1008,668h2M1252,668h1M1010,669h1M1014,671h2M1016,672h1M1249,672h1M1020,673h1M1249,673h1M1021,674h2M1248,674h1M1026,676h3M1032,677h1M1033,678h2M1245,678h1M1038,679h3M1244,679h1M1044,680h3M1243,680h1M1050,681h3M1056,682h3M1062,683h2M1064,684h1M1241,684h1M1068,685h2M1240,685h1M1070,686h1M1239,686h1M1074,687h2M1076,688h1M1080,689h2M1082,690h1M1236,690h1M1086,691h2M1235,691h1M1088,692h1M1235,692h1M1092,694h2M1094,695h1M1231,696h1M1098,697h2M1231,697h1M1100,698h1M1230,698h1M1104,700h2M1106,701h1M1226,702h1M1110,703h2M1225,703h1M1112,704h1M1224,704h1M1116,705h2M1118,706h1M1122,707h2M1124,708h1M1220,708h1M1219,709h1M1128,710h3M1218,710h1M1134,711h3M1140,712h3M1146,713h2M1214,713h1M1148,714h1M1213,714h1M1152,715h2M1212,715h1M1154,716h1M1158,717h3M1208,717h1M1164,718h1M1206,718h2M1165,719h2M1170,720h2M1202,720h1M1172,721h1M1200,721h2M1176,722h3M1196,722h1M1182,723h2M1194,723h2M1184,724h1M1188,724h3" transform="translate(0,0.5)" fill="none" stroke="#ff0000" stroke-width="1"/>
</g></g>
<text transform="translate(-2.5,592) scale(0.9118,1)" font-size="10.2" fill="#000" text-anchor="start" font-weight="normal"  text-rendering="geometricPrecision" stroke="#000" stroke-width="0.22">MACD(12,26,9) 151.74 207.90</text>
<g shape-rendering="crispEdges">
<rect x="1652" y="581" width="1" height="1" fill="#000" />
<rect x="1652" y="624" width="2" height="1" fill="#000" />
<rect x="1652" y="747" width="1" height="1" fill="#000" />
</g>
<text transform="translate(1654.6,589) scale(0.9118,1)" font-size="10.2" fill="#000" text-anchor="start" font-weight="normal"  text-rendering="geometricPrecision" stroke="#000" stroke-width="0.22">389.44</text>
<text transform="translate(1655,627.3) scale(0.9118,1)" font-size="10.2" fill="#000" text-anchor="start" font-weight="normal"  text-rendering="geometricPrecision" stroke="#000" stroke-width="0.22">0.00</text>
<text transform="translate(1654.5,745.6) scale(0.9118,1)" font-size="10.2" fill="#000" text-anchor="start" font-weight="normal"  text-rendering="geometricPrecision" stroke="#000" stroke-width="0.22">-1099.78</text>
<g clip-path="url(#c3)"><g shape-rendering="crispEdges">
<line x1="0" y1="787.5" x2="1651" y2="787.5" stroke="#c0c0c0" stroke-width="1" stroke-dasharray="3 3" stroke-dashoffset="0.5"/>
<line x1="0" y1="838.5" x2="1651" y2="838.5" stroke="#c0c0c0" stroke-width="1" stroke-dasharray="3 3" stroke-dashoffset="0.5"/>
<line x1="0" y1="899.5" x2="1651" y2="899.5" stroke="#c0c0c0" stroke-width="1" stroke-dasharray="3 3" stroke-dashoffset="0.5"/>
<path d="M533,801h4M616,801h1M527,802h6M537,802h1M615,802h1M617,802h1M523,803h4M537,803h1M613,803h2M617,803h1M519,804h4M538,804h1M612,804h1M618,804h1M517,805h2M538,805h1M611,805h1M619,805h1M514,806h3M539,806h1M609,806h2M620,806h1M512,807h2M539,807h1M608,807h1M620,807h1M511,808h1M540,808h1M608,808h1M621,808h1M511,809h1M540,809h1M607,809h1M622,809h1M631,809h2M510,810h1M541,810h1M552,810h1M607,810h1M623,810h1M629,810h2M633,810h1M510,811h1M541,811h1M551,811h1M553,811h1M606,811h1M623,811h1M626,811h3M634,811h1M509,812h1M542,812h1M549,812h2M554,812h1M606,812h1M624,812h2M635,812h1M509,813h1M542,813h1M548,813h1M555,813h1M606,813h1M636,813h1M508,814h1M543,814h1M547,814h1M556,814h1M605,814h1M636,814h1M508,815h1M543,815h1M545,815h2M557,815h1M605,815h1M637,815h1M496,816h1M507,816h1M544,816h1M558,816h1M605,816h1M638,816h1M494,817h2M497,817h2M507,817h1M559,817h1M604,817h1M639,817h1M800,817h2M493,818h1M499,818h1M506,818h1M560,818h2M604,818h1M640,818h3M799,818h1M802,818h3M1392,818h1M491,819h2M500,819h1M506,819h1M562,819h3M603,819h1M643,819h4M798,819h1M805,819h2M1390,819h2M1393,819h1M480,820h5M489,820h2M501,820h2M505,820h1M565,820h2M603,820h1M647,820h2M776,820h10M797,820h1M807,820h4M1256,820h2M1388,820h2M1394,820h1M479,821h1M485,821h4M503,821h1M505,821h1M567,821h10M603,821h1M649,821h1M775,821h1M786,821h2M795,821h2M811,821h4M1254,821h2M1258,821h3M1386,821h2M1394,821h1M478,822h1M504,822h1M577,822h1M602,822h1M649,822h1M775,822h1M788,822h2M794,822h1M815,822h2M1253,822h1M1261,822h2M1269,822h4M1384,822h2M1395,822h1M477,823h1M578,823h1M602,823h1M650,823h1M774,823h1M790,823h2M793,823h1M817,823h1M1251,823h2M1263,823h6M1273,823h2M1383,823h1M1396,823h1M476,824h1M579,824h1M602,824h1M650,824h1M774,824h1M792,824h1M817,824h1M1249,824h2M1275,824h2M1336,824h10M1382,824h1M1397,824h1M475,825h1M580,825h1M601,825h1M651,825h1M735,825h3M773,825h1M818,825h1M1248,825h1M1277,825h1M1334,825h2M1346,825h2M1381,825h1M1398,825h1M474,826h1M581,826h1M591,826h4M601,826h1M651,826h1M733,826h2M738,826h3M772,826h1M819,826h1M1247,826h1M1278,826h2M1332,826h2M1348,826h2M1379,826h2M1398,826h1M473,827h1M582,827h1M589,827h2M595,827h4M600,827h1M652,827h1M730,827h3M741,827h2M772,827h1M820,827h1M1246,827h1M1280,827h1M1330,827h2M1350,827h2M1378,827h1M1399,827h1M472,828h1M583,828h1M586,828h3M599,828h2M652,828h1M728,828h2M743,828h10M771,828h1M820,828h1M863,828h2M1245,828h1M1281,828h1M1327,828h3M1352,828h5M1377,828h1M1400,828h2M471,829h1M584,829h2M653,829h1M727,829h1M753,829h1M770,829h1M821,829h1M859,829h4M865,829h1M1243,829h2M1282,829h1M1325,829h2M1357,829h5M1376,829h1M1402,829h3M469,830h2M653,830h1M727,830h1M754,830h1M770,830h1M822,830h1M856,830h3M866,830h1M880,830h9M1242,830h1M1283,830h2M1322,830h3M1362,830h2M1374,830h2M1405,830h2M468,831h1M654,831h1M726,831h1M755,831h1M769,831h1M823,831h1M855,831h1M867,831h2M878,831h2M889,831h1M1199,831h2M1241,831h1M1285,831h1M1317,831h5M1364,831h2M1372,831h2M1407,831h2M467,832h1M654,832h1M726,832h1M756,832h1M769,832h1M823,832h1M853,832h2M869,832h1M877,832h1M889,832h1M1197,832h2M1201,832h1M1216,832h5M1239,832h2M1286,832h1M1309,832h8M1366,832h2M1370,832h2M1409,832h1M192,833h1M465,833h2M655,833h1M725,833h1M756,833h1M768,833h1M824,833h1M852,833h1M870,833h1M875,833h2M890,833h1M1194,833h3M1202,833h1M1215,833h1M1221,833h6M1237,833h2M1287,833h1M1304,833h5M1368,833h2M1410,833h1M160,834h3M191,834h1M193,834h1M392,834h1M464,834h1M655,834h1M725,834h1M757,834h1M766,834h2M825,834h2M851,834h1M871,834h1M873,834h2M890,834h1M1192,834h2M1203,834h2M1213,834h2M1227,834h4M1234,834h3M1288,834h1M1303,834h1M1411,834h1M159,835h1M163,835h4M190,835h1M194,835h1M391,835h1M393,835h1M464,835h1M656,835h2M679,835h2M724,835h1M758,835h1M764,835h2M827,835h2M849,835h2M872,835h1M891,835h1M1192,835h1M1205,835h1M1212,835h1M1231,835h3M1289,835h2M1301,835h2M1412,835h1M158,836h1M167,836h6M190,836h1M195,836h1M391,836h1M394,836h1M463,836h1M658,836h3M675,836h4M680,836h1M724,836h1M759,836h1M762,836h2M829,836h1M848,836h1M891,836h1M1191,836h1M1206,836h1M1211,836h1M1291,836h2M1300,836h1M1413,836h1M157,837h1M173,837h4M189,837h1M196,837h1M390,837h1M395,837h1M463,837h1M661,837h2M669,837h6M681,837h1M723,837h1M760,837h2M830,837h2M846,837h2M892,837h1M1191,837h1M1207,837h1M1209,837h2M1293,837h1M1299,837h1M1414,837h1M155,838h2M177,838h2M188,838h1M196,838h1M390,838h1M396,838h1M462,838h1M663,838h6M681,838h1M723,838h1M832,838h3M844,838h2M892,838h1M1190,838h1M1208,838h1M1294,838h2M1297,838h2M1415,838h1M154,839h1M179,839h1M187,839h1M197,839h1M389,839h1M396,839h1M462,839h1M681,839h1M722,839h1M835,839h4M842,839h2M893,839h1M1190,839h1M1296,839h1M1416,839h9M153,840h1M180,840h1M186,840h1M198,840h1M389,840h1M397,840h1M424,840h1M461,840h1M682,840h1M722,840h1M839,840h3M893,840h1M1189,840h1M136,841h2M151,841h2M181,841h2M186,841h1M199,841h1M352,841h1M388,841h1M398,841h1M422,841h2M425,841h1M461,841h1M682,841h1M721,841h1M894,841h1M1189,841h1M135,842h1M138,842h3M149,842h2M183,842h1M185,842h1M200,842h1M351,842h1M353,842h1M388,842h1M399,842h1M405,842h6M420,842h2M426,842h1M460,842h1M683,842h1M721,842h1M894,842h1M1188,842h1M135,843h1M141,843h2M146,843h3M184,843h1M201,843h1M350,843h1M353,843h1M387,843h1M400,843h5M411,843h4M418,843h2M427,843h1M460,843h1M683,843h1M720,843h1M895,843h1M1188,843h1M134,844h1M143,844h3M201,844h1M349,844h1M354,844h1M387,844h1M415,844h3M428,844h1M459,844h1M683,844h1M720,844h1M895,844h1M1187,844h1M134,845h1M202,845h1M347,845h2M354,845h1M386,845h1M428,845h1M459,845h1M684,845h1M720,845h1M896,845h1M1187,845h1M133,846h1M203,846h1M346,846h1M355,846h1M386,846h1M429,846h1M458,846h1M684,846h1M719,846h1M897,846h2M1186,846h1M133,847h1M204,847h1M335,847h6M345,847h1M356,847h1M385,847h1M430,847h1M458,847h1M684,847h1M719,847h1M899,847h2M1186,847h1M132,848h1M204,848h1M333,848h2M341,848h4M356,848h1M385,848h1M431,848h1M457,848h1M685,848h1M718,848h1M901,848h1M1185,848h1M132,849h1M205,849h1M330,849h3M357,849h1M381,849h4M432,849h1M457,849h1M685,849h1M718,849h1M902,849h2M1185,849h1M131,850h1M206,850h1M327,850h3M358,850h1M376,850h5M433,850h1M456,850h1M685,850h1M717,850h1M904,850h9M1184,850h1M131,851h1M207,851h1M224,851h1M325,851h2M358,851h1M374,851h2M434,851h1M456,851h1M686,851h1M696,851h1M717,851h1M912,851h1M1184,851h1M7,852h2M130,852h1M207,852h1M222,852h2M225,852h1M322,852h3M359,852h1M373,852h1M435,852h1M455,852h1M686,852h1M695,852h1M697,852h2M716,852h1M913,852h1M1184,852h1M3,853h4M8,853h1M130,853h1M208,853h3M220,853h2M226,853h1M248,853h1M319,853h3M359,853h1M371,853h2M436,853h1M454,853h1M687,853h1M693,853h2M699,853h1M716,853h1M913,853h1M1183,853h1M0,854h3M9,854h1M129,854h1M211,854h4M218,854h2M227,854h1M247,854h1M249,854h1M315,854h4M360,854h5M369,854h2M436,854h1M454,854h1M687,854h1M692,854h1M700,854h1M715,854h1M914,854h1M1183,854h1M9,855h1M129,855h1M215,855h3M228,855h1M247,855h1M250,855h1M311,855h4M365,855h4M437,855h1M453,855h1M687,855h1M691,855h1M701,855h2M715,855h1M914,855h1M1183,855h1M10,856h1M128,856h1M229,856h1M246,856h1M251,856h1M309,856h2M438,856h1M452,856h1M688,856h3M703,856h1M714,856h1M914,856h1M1183,856h1M10,857h1M127,857h1M230,857h1M245,857h1M252,857h1M306,857h3M439,857h1M451,857h1M688,857h1M704,857h2M714,857h1M915,857h1M1182,857h1M11,858h1M127,858h1M231,858h1M244,858h1M252,858h1M304,858h2M440,858h2M450,858h1M706,858h2M713,858h1M915,858h1M1182,858h1M11,859h1M104,859h1M126,859h1M232,859h1M244,859h1M253,859h1M303,859h1M442,859h3M450,859h1M708,859h2M713,859h1M916,859h1M936,859h5M1182,859h1M11,860h1M103,860h1M105,860h1M126,860h1M233,860h2M243,860h1M254,860h1M302,860h1M445,860h2M449,860h1M710,860h3M916,860h1M934,860h2M941,860h4M1182,860h1M12,861h1M102,861h1M106,861h1M125,861h1M235,861h2M242,861h1M255,861h1M301,861h1M447,861h2M712,861h1M916,861h1M933,861h1M944,861h1M1181,861h1M12,862h1M102,862h1M107,862h1M125,862h1M237,862h1M241,862h1M256,862h5M299,862h2M917,862h1M931,862h2M945,862h1M1181,862h1M13,863h1M101,863h1M108,863h1M124,863h1M238,863h2M241,863h1M261,863h4M298,863h1M917,863h1M929,863h2M945,863h1M1181,863h1M13,864h1M100,864h1M108,864h1M124,864h1M240,864h1M265,864h2M297,864h1M918,864h1M928,864h1M946,864h1M1180,864h1M13,865h1M87,865h3M99,865h1M109,865h1M123,865h1M267,865h1M293,865h4M918,865h1M927,865h1M946,865h1M1180,865h1M14,866h1M83,866h4M90,866h2M98,866h1M110,866h1M123,866h1M268,866h1M288,866h5M918,866h1M925,866h2M947,866h1M1180,866h1M14,867h1M80,867h3M92,867h2M98,867h1M111,867h1M122,867h1M269,867h2M286,867h2M919,867h1M924,867h1M947,867h1M1180,867h1M15,868h1M64,868h1M79,868h1M94,868h2M97,868h1M112,868h2M122,868h1M271,868h1M285,868h1M919,868h1M923,868h1M948,868h1M1179,868h1M15,869h1M64,869h3M77,869h2M96,869h1M114,869h3M121,869h1M272,869h3M283,869h2M920,869h3M948,869h1M1179,869h1M16,870h1M63,870h1M67,870h2M76,870h1M117,870h2M121,870h1M275,870h4M281,870h2M920,870h1M949,870h1M1179,870h1M16,871h2M63,871h1M69,871h1M75,871h1M119,871h2M279,871h2M949,871h1M1178,871h1M18,872h2M62,872h1M70,872h2M73,872h2M950,872h1M992,872h11M1178,872h1M20,873h2M62,873h1M72,873h1M950,873h1M991,873h1M1003,873h4M1136,873h1M1178,873h1M22,874h2M61,874h1M951,874h1M991,874h1M1007,874h4M1112,874h3M1135,874h1M1137,874h1M1178,874h1M24,875h3M61,875h1M951,875h1M990,875h1M1011,875h4M1111,875h1M1115,875h4M1135,875h1M1138,875h1M1177,875h1M27,876h4M60,876h1M952,876h1M990,876h1M1015,876h4M1031,876h10M1111,876h1M1119,876h2M1134,876h1M1138,876h1M1177,876h1M31,877h3M60,877h1M952,877h5M989,877h1M1019,877h4M1027,877h4M1041,877h1M1110,877h1M1121,877h1M1133,877h1M1139,877h1M1177,877h1M34,878h2M60,878h1M957,878h13M988,878h1M1023,878h4M1041,878h1M1110,878h1M1122,878h1M1132,878h1M1140,878h1M1177,878h1M36,879h2M59,879h1M970,879h3M988,879h1M1042,879h1M1109,879h1M1123,879h1M1132,879h1M1141,879h1M1176,879h1M38,880h2M59,880h1M973,880h2M987,880h1M1043,880h1M1109,880h1M1124,880h1M1131,880h1M1142,880h1M1176,880h1M40,881h2M58,881h1M975,881h3M986,881h1M1044,881h1M1108,881h1M1125,881h1M1130,881h1M1142,881h1M1175,881h1M42,882h2M58,882h1M978,882h2M986,882h1M1044,882h1M1107,882h1M1126,882h1M1129,882h1M1143,882h1M1175,882h1M44,883h2M57,883h1M980,883h2M985,883h1M1045,883h1M1107,883h1M1127,883h1M1129,883h1M1144,883h3M1174,883h1M46,884h2M57,884h1M982,884h2M985,884h1M1046,884h1M1055,884h2M1106,884h1M1128,884h1M1147,884h4M1174,884h1M48,885h5M56,885h1M984,885h1M1047,885h1M1053,885h2M1057,885h1M1106,885h1M1151,885h2M1173,885h1M53,886h4M1047,886h1M1050,886h3M1058,886h1M1105,886h1M1153,886h2M1173,886h1M1048,887h2M1058,887h1M1105,887h1M1155,887h1M1172,887h1M1059,888h1M1104,888h1M1156,888h1M1172,888h1M1060,889h1M1103,889h1M1157,889h2M1171,889h1M1061,890h1M1103,890h1M1159,890h1M1171,890h1M1062,891h1M1102,891h1M1160,891h1M1170,891h1M1062,892h1M1102,892h1M1161,892h2M1170,892h1M1063,893h1M1101,893h1M1163,893h2M1169,893h1M1064,894h3M1101,894h1M1165,894h1M1169,894h1M1067,895h4M1077,895h8M1100,895h1M1166,895h3M1071,896h6M1085,896h4M1099,896h1M1168,896h1M1089,897h2M1099,897h1M1091,898h1M1098,898h1M1092,899h1M1098,899h1M1093,900h2M1097,900h1M1095,901h1M1097,901h1M1096,902h1" transform="translate(0,0.5)" fill="none" stroke="#1e90ff" stroke-width="1"/>
</g></g>
<text transform="translate(-3.5,764) scale(0.9118,1)" font-size="10.2" fill="#000" text-anchor="start" font-weight="normal"  text-rendering="geometricPrecision" stroke="#000" stroke-width="0.22">RSI(14) 49.5847</text>
<g shape-rendering="crispEdges">
<rect x="1652" y="753" width="1" height="1" fill="#000" />
<rect x="1652" y="924" width="1" height="1" fill="#000" />
</g>
<text transform="translate(1654.4,762.1) scale(0.9118,1)" font-size="10.2" fill="#000" text-anchor="start" font-weight="normal"  text-rendering="geometricPrecision" stroke="#000" stroke-width="0.22">100</text>
<text transform="translate(1654.4,791.1) scale(0.9118,1)" font-size="10.2" fill="#000" text-anchor="start" font-weight="normal"  text-rendering="geometricPrecision" stroke="#000" stroke-width="0.22">80</text>
<text transform="translate(1654.4,842.1) scale(0.9118,1)" font-size="10.2" fill="#000" text-anchor="start" font-weight="normal"  text-rendering="geometricPrecision" stroke="#000" stroke-width="0.22">50</text>
<text transform="translate(1654.4,903.1) scale(0.9118,1)" font-size="10.2" fill="#000" text-anchor="start" font-weight="normal"  text-rendering="geometricPrecision" stroke="#000" stroke-width="0.22">15</text>
<text transform="translate(1654.4,922.1) scale(0.9118,1)" font-size="10.2" fill="#000" text-anchor="start" font-weight="normal"  text-rendering="geometricPrecision" stroke="#000" stroke-width="0.22">0</text>
<g shape-rendering="crispEdges">
<rect x="56" y="926" width="1" height="4" fill="#000" />
<rect x="120" y="926" width="1" height="4" fill="#000" />
<rect x="184" y="926" width="1" height="4" fill="#000" />
<rect x="248" y="926" width="1" height="4" fill="#000" />
<rect x="312" y="926" width="1" height="4" fill="#000" />
<rect x="376" y="926" width="1" height="4" fill="#000" />
<rect x="440" y="926" width="1" height="4" fill="#000" />
<rect x="504" y="926" width="1" height="4" fill="#000" />
<rect x="568" y="926" width="1" height="4" fill="#000" />
<rect x="632" y="926" width="1" height="4" fill="#000" />
<rect x="696" y="926" width="1" height="4" fill="#000" />
<rect x="760" y="926" width="1" height="4" fill="#000" />
<rect x="824" y="926" width="1" height="4" fill="#000" />
<rect x="888" y="926" width="1" height="4" fill="#000" />
<rect x="952" y="926" width="1" height="4" fill="#000" />
<rect x="1016" y="926" width="1" height="4" fill="#000" />
<rect x="1080" y="926" width="1" height="4" fill="#000" />
<rect x="1144" y="926" width="1" height="4" fill="#000" />
<rect x="1208" y="926" width="1" height="4" fill="#000" />
<rect x="1272" y="926" width="1" height="4" fill="#000" />
<rect x="1336" y="926" width="1" height="4" fill="#000" />
<rect x="1400" y="926" width="1" height="4" fill="#000" />
</g>
<text transform="translate(-7.5,938) scale(0.9216,1)" font-size="10.2" fill="#000" text-anchor="start" font-weight="normal"  text-rendering="geometricPrecision" stroke="#000" stroke-width="0.22">24 Nov 2021</text>
<text transform="translate(55.5,938) scale(0.9216,1)" font-size="10.2" fill="#000" text-anchor="start" font-weight="normal"  text-rendering="geometricPrecision" stroke="#000" stroke-width="0.22">30 Nov 05:00</text>
<text transform="translate(119.5,938) scale(0.9216,1)" font-size="10.2" fill="#000" text-anchor="start" font-weight="normal"  text-rendering="geometricPrecision" stroke="#000" stroke-width="0.22">6 Dec 05:00</text>
<text transform="translate(183.5,938) scale(0.9216,1)" font-size="10.2" fill="#000" text-anchor="start" font-weight="normal"  text-rendering="geometricPrecision" stroke="#000" stroke-width="0.22">10 Dec 05:00</text>
<text transform="translate(247.5,938) scale(0.9216,1)" font-size="10.2" fill="#000" text-anchor="start" font-weight="normal"  text-rendering="geometricPrecision" stroke="#000" stroke-width="0.22">16 Dec 05:00</text>
<text transform="translate(311.5,938) scale(0.9216,1)" font-size="10.2" fill="#000" text-anchor="start" font-weight="normal"  text-rendering="geometricPrecision" stroke="#000" stroke-width="0.22">22 Dec 05:00</text>
<text transform="translate(375.5,938) scale(0.9216,1)" font-size="10.2" fill="#000" text-anchor="start" font-weight="normal"  text-rendering="geometricPrecision" stroke="#000" stroke-width="0.22">30 Dec 01:15</text>
<text transform="translate(439.5,938) scale(0.9216,1)" font-size="10.2" fill="#000" text-anchor="start" font-weight="normal"  text-rendering="geometricPrecision" stroke="#000" stroke-width="0.22">5 Jan 05:00</text>
<text transform="translate(503.5,938) scale(0.9216,1)" font-size="10.2" fill="#000" text-anchor="start" font-weight="normal"  text-rendering="geometricPrecision" stroke="#000" stroke-width="0.22">11 Jan 05:00</text>
<text transform="translate(567.5,938) scale(0.9216,1)" font-size="10.2" fill="#000" text-anchor="start" font-weight="normal"  text-rendering="geometricPrecision" stroke="#000" stroke-width="0.22">17 Jan 05:00</text>
<text transform="translate(631.5,938) scale(0.9216,1)" font-size="10.2" fill="#000" text-anchor="start" font-weight="normal"  text-rendering="geometricPrecision" stroke="#000" stroke-width="0.22">21 Jan 05:00</text>
<text transform="translate(695.5,938) scale(0.9216,1)" font-size="10.2" fill="#000" text-anchor="start" font-weight="normal"  text-rendering="geometricPrecision" stroke="#000" stroke-width="0.22">27 Jan 05:00</text>
<text transform="translate(759.5,938) scale(0.9216,1)" font-size="10.2" fill="#000" text-anchor="start" font-weight="normal"  text-rendering="geometricPrecision" stroke="#000" stroke-width="0.22">8 Feb 01:15</text>
<text transform="translate(823.5,938) scale(0.9216,1)" font-size="10.2" fill="#000" text-anchor="start" font-weight="normal"  text-rendering="geometricPrecision" stroke="#000" stroke-width="0.22">14 Feb 01:15</text>
<text transform="translate(887.5,938) scale(0.9216,1)" font-size="10.2" fill="#000" text-anchor="start" font-weight="normal"  text-rendering="geometricPrecision" stroke="#000" stroke-width="0.22">18 Feb 01:15</text>
<text transform="translate(951.5,938) scale(0.9216,1)" font-size="10.2" fill="#000" text-anchor="start" font-weight="normal"  text-rendering="geometricPrecision" stroke="#000" stroke-width="0.22">24 Feb 01:15</text>
<text transform="translate(1015.5,938) scale(0.9216,1)" font-size="10.2" fill="#000" text-anchor="start" font-weight="normal"  text-rendering="geometricPrecision" stroke="#000" stroke-width="0.22">2 Mar 01:15</text>
<text transform="translate(1079.5,938) scale(0.9216,1)" font-size="10.2" fill="#000" text-anchor="start" font-weight="normal"  text-rendering="geometricPrecision" stroke="#000" stroke-width="0.22">8 Mar 01:15</text>
<text transform="translate(1143.5,938) scale(0.9216,1)" font-size="10.2" fill="#000" text-anchor="start" font-weight="normal"  text-rendering="geometricPrecision" stroke="#000" stroke-width="0.22">14 Mar 01:15</text>
<text transform="translate(1207.5,938) scale(0.9216,1)" font-size="10.2" fill="#000" text-anchor="start" font-weight="normal"  text-rendering="geometricPrecision" stroke="#000" stroke-width="0.22">18 Mar 01:15</text>
<text transform="translate(1271.5,938) scale(0.9216,1)" font-size="10.2" fill="#000" text-anchor="start" font-weight="normal"  text-rendering="geometricPrecision" stroke="#000" stroke-width="0.22">24 Mar 01:15</text>
<text transform="translate(1335.5,938) scale(0.9216,1)" font-size="10.2" fill="#000" text-anchor="start" font-weight="normal"  text-rendering="geometricPrecision" stroke="#000" stroke-width="0.22">30 Mar 01:15</text>
<text transform="translate(1399.5,938) scale(0.9216,1)" font-size="10.2" fill="#000" text-anchor="start" font-weight="normal"  text-rendering="geometricPrecision" stroke="#000" stroke-width="0.22">6 Apr 01:15</text>
<rect x="1697" y="20" width="1" height="919" fill="#e3e3e3" />
<g shape-rendering="crispEdges">
<rect x="0" y="42" width="216" height="61" fill="#fff" />
<rect x="0" y="44" width="47" height="24" fill="url(#gt)" />
<rect x="0" y="44" width="47" height="1" fill="#c81818" />
<rect x="46" y="44" width="1" height="24" fill="#c81818" />
<rect x="162" y="44" width="52" height="24" fill="url(#gt)" />
<rect x="162" y="44" width="52" height="1" fill="#c81818" />
<rect x="162" y="44" width="1" height="24" fill="#c81818" />
<rect x="213" y="44" width="1" height="24" fill="#c81818" />
<rect x="0" y="68" width="104" height="33" fill="url(#gb)" />
<rect x="103" y="68" width="1" height="33" fill="#b00c0c" />
<rect x="47" y="68" width="57" height="1" fill="#c81818" />
<rect x="106" y="68" width="108" height="33" fill="url(#gb)" />
<rect x="106" y="68" width="1" height="33" fill="#b00c0c" />
<rect x="213" y="68" width="1" height="33" fill="#b00c0c" />
<rect x="106" y="68" width="56" height="1" fill="#c81818" />
<rect x="0" y="67" width="43" height="1" fill="#8c0808" />
<rect x="0" y="68" width="43" height="1" fill="#e86060" />
<rect x="166" y="67" width="44" height="1" fill="#8c0808" />
<rect x="166" y="68" width="44" height="1" fill="#e86060" />
<rect x="49" y="44" width="111" height="22" fill="#a8acb4" />
<rect x="50" y="45" width="109" height="20" fill="#fff" />
<rect x="50" y="45" width="20" height="20" fill="url(#gbtn)" />
<rect x="70" y="45" width="1" height="20" fill="#a8acb4" />
<rect x="139" y="45" width="20" height="20" fill="url(#gbtn)" />
<rect x="138" y="45" width="1" height="20" fill="#a8acb4" />
<rect x="50" y="45" width="109" height="1" fill="#e8e8ec" />
</g>
<polygon points="56.5,53 62.5,53 59.5,56.5" fill="#4a5ec8"/>
<polygon points="145.5,55.5 151.5,55.5 148.5,52" fill="#4a5ec8"/>
<text x="134.8" y="59" font-size="12" fill="#000" text-anchor="end" font-weight="normal" >1.00</text>
<text x="7" y="60.2" font-size="12.2" fill="#fff" text-anchor="start" font-weight="normal" textLength="26" lengthAdjust="spacingAndGlyphs">SELL</text>
<text x="175.5" y="60.2" font-size="12.2" fill="#fff" text-anchor="start" font-weight="normal" textLength="23.2" lengthAdjust="spacingAndGlyphs">BUY</text>
<text x="11" y="96.3" font-size="12.5" fill="#fff" text-anchor="start" font-weight="bold" >21794</text>
<text x="121" y="96.3" font-size="12.5" fill="#fff" text-anchor="start" font-weight="bold" >21807</text>
<circle cx="52.4" cy="94.3" r="2.05" fill="#fff"/><circle cx="163.5" cy="94.3" r="2.05" fill="#fff"/>
<text x="57.4" y="96.4" font-size="35.5" fill="#fff" text-anchor="start" font-weight="normal" textLength="16" lengthAdjust="spacingAndGlyphs">5</text>
<text x="168.4" y="96.4" font-size="35.5" fill="#fff" text-anchor="start" font-weight="normal" textLength="16" lengthAdjust="spacingAndGlyphs">5</text>
<g shape-rendering="crispEdges">
<rect x="0" y="0" width="1698" height="19" fill="#f0f0f0" />
<rect x="0" y="19" width="1698" height="1" fill="#f5f5f5" />
<rect x="0" y="20" width="1698" height="1" fill="#a6a6a6" />
<rect x="0" y="21" width="1698" height="1" fill="#696969" />
<rect x="0" y="22" width="1698" height="2" fill="#fff" />
<rect x="0" y="24" width="1652" height="1" fill="#000" />
<rect x="12" y="1" width="1" height="17" fill="#a0a0a0" />
<rect x="13" y="1" width="1" height="17" fill="#ffffff" />
<rect x="343" y="1" width="1" height="17" fill="#a0a0a0" />
<rect x="344" y="1" width="1" height="17" fill="#ffffff" />
<rect x="433" y="1" width="1" height="17" fill="#a0a0a0" />
<rect x="434" y="1" width="1" height="17" fill="#ffffff" />
<rect x="466" y="1" width="1" height="17" fill="#a0a0a0" />
<rect x="467" y="1" width="1" height="17" fill="#ffffff" />
<rect x="495" y="1" width="1" height="17" fill="#a0a0a0" />
<rect x="496" y="1" width="1" height="17" fill="#ffffff" />
<rect x="683" y="1" width="1" height="17" fill="#a0a0a0" />
<rect x="684" y="1" width="1" height="17" fill="#ffffff" />
<rect x="248" y="0" width="1" height="19" fill="#a0a0a0" />
<rect x="249" y="0" width="1" height="19" fill="#ffffff" />
<rect x="616" y="0" width="1" height="19" fill="#a0a0a0" />
<rect x="617" y="0" width="1" height="19" fill="#ffffff" />
<rect x="922" y="0" width="1" height="19" fill="#a0a0a0" />
<rect x="923" y="0" width="1" height="19" fill="#ffffff" />
<rect x="1183" y="0" width="1" height="19" fill="#a0a0a0" />
<rect x="1184" y="0" width="1" height="19" fill="#ffffff" />
<rect x="252" y="2" width="3" height="1" fill="#b8b8b8" />
<rect x="252" y="4" width="3" height="1" fill="#b8b8b8" />
<rect x="252" y="6" width="3" height="1" fill="#b8b8b8" />
<rect x="252" y="8" width="3" height="1" fill="#b8b8b8" />
<rect x="252" y="10" width="3" height="1" fill="#b8b8b8" />
<rect x="252" y="12" width="3" height="1" fill="#b8b8b8" />
<rect x="252" y="14" width="3" height="1" fill="#b8b8b8" />
<rect x="252" y="16" width="3" height="1" fill="#b8b8b8" />
<rect x="620" y="2" width="3" height="1" fill="#b8b8b8" />
<rect x="620" y="4" width="3" height="1" fill="#b8b8b8" />
<rect x="620" y="6" width="3" height="1" fill="#b8b8b8" />
<rect x="620" y="8" width="3" height="1" fill="#b8b8b8" />
<rect x="620" y="10" width="3" height="1" fill="#b8b8b8" />
<rect x="620" y="12" width="3" height="1" fill="#b8b8b8" />
<rect x="620" y="14" width="3" height="1" fill="#b8b8b8" />
<rect x="620" y="16" width="3" height="1" fill="#b8b8b8" />
<rect x="926" y="2" width="3" height="1" fill="#b8b8b8" />
<rect x="926" y="4" width="3" height="1" fill="#b8b8b8" />
<rect x="926" y="6" width="3" height="1" fill="#b8b8b8" />
<rect x="926" y="8" width="3" height="1" fill="#b8b8b8" />
<rect x="926" y="10" width="3" height="1" fill="#b8b8b8" />
<rect x="926" y="12" width="3" height="1" fill="#b8b8b8" />
<rect x="926" y="14" width="3" height="1" fill="#b8b8b8" />
<rect x="926" y="16" width="3" height="1" fill="#b8b8b8" />
<rect x="286" y="0" width="25" height="18" fill="url(#hatch)" />
<rect x="286" y="0" width="1" height="18" fill="#b4b4b4" />
<rect x="438" y="0" width="25" height="18" fill="url(#hatch)" />
<rect x="438" y="0" width="1" height="18" fill="#b4b4b4" />
<rect x="467" y="0" width="24" height="18" fill="url(#hatch)" />
<rect x="627" y="0" width="24" height="18" fill="url(#hatch)" />
<rect x="627" y="0" width="1" height="18" fill="#b4b4b4" />
<rect x="1072" y="0" width="26" height="18" fill="url(#hatch)" />
<rect x="1072" y="0" width="1" height="18" fill="#b4b4b4" />
</g>
<line x1="0" y1="10" x2="4" y2="16" stroke="#c8a030" stroke-width="2.5" />
<rect x="0" y="7" width="1" height="4" fill="#5b8fd8" />
<path d="M22.5,0.5 h8 l3.5,3.5 v10 h-11.5z" fill="#fff" stroke="#707070" stroke-width="1"/>
<path d="M25,4h4M25,7h6M25,9.5h4" stroke="#909090" stroke-width="1" fill="none"/>
<path d="M30,6.5h4.5v3.5h3.5v4.5h-3.5v3.5h-4.5v-3.5h-3.5v-4.5h3.5z" fill="#28c828" stroke="#108010" stroke-width="0.8"/>
<path transform="translate(41.3,0.8)" d="M0.5,2h5 M3,0.3v1.7 M1.2,3.2l0.8,1.6 M4.8,3.2l-0.8,1.6 M0.3,5.3h5.6 M0.3,7.5h5.6 M3,5.3v6.2 M2.6,8l-2.2,2.6 M3.4,8l2,2 M10.8,0.6l-3.6,1.2 M7.2,1.8v5.2q0,3-1,4.5 M7.2,4.8h4.3 M9.6,4.8v6.8" fill="none" stroke="#000" stroke-width="1.05" stroke-linecap="square"/>
<path transform="translate(53.3,0.8)" d="M1.2,0.8l1.2,1.4 M0.3,4.2h2.2v6l1.6,-1.6 M4.6,1.8h6.9 M8.4,1.8v8.8q0,1-1,1h-1" fill="none" stroke="#000" stroke-width="1.05" stroke-linecap="square"/>
<path transform="translate(65.3,0.8)" d="M2.8,0.3l1.2,1.6 M9,0.3l-1.2,1.6 M1.8,2.6h8.2v5h-8.2z M1.8,5.1h8.2 M5.9,2.6v9 M0.3,9.4h11.2" fill="none" stroke="#000" stroke-width="1.05" stroke-linecap="square"/>
<path transform="translate(194.0,0.8)" d="M6.2,0.2l-1.2,1.8 M2.2,2.2h7.6v9.3h-7.6z M2.2,5.2h7.6 M2.2,8.2h7.6" fill="none" stroke="#000" stroke-width="1.05" stroke-linecap="square"/>
<path transform="translate(205.7,0.8)" d="M0.8,2h4.6 M0.3,4.8h5.6 M3,4.8l-2.2,4.6h4.6 M4.2,7l1.6,3.4 M6.4,3.2h4.8q0,6-1.2,8l-1.2,-0.6 M8.6,0.4q0,8-2.6,11" fill="none" stroke="#000" stroke-width="1.05" stroke-linecap="square"/>
<path transform="translate(217.4,0.8)" d="M5.9,0.2v1.8 M0.4,2.3h11 M3.6,3.4l-2.6,2.8 M8.2,3.4l2.6,2.8 M3.2,5.6q3,4 8.4,5.8 M8.6,5.6q-3,4.4-8.2,5.8" fill="none" stroke="#000" stroke-width="1.05" stroke-linecap="square"/>
<path transform="translate(229.1,0.8)" d="M2.6,0.6h6.8v4.4h-6.8z M2.6,2.8h6.8 M3.4,5.4l-3,3.4 M2.6,6.6h8.4q0,4-1.4,5l-1.2,-0.6 M5.6,6.8l-3.6,4.4 M8.2,6.8l-3.8,4.8" fill="none" stroke="#000" stroke-width="1.05" stroke-linecap="square"/>
<path d="M96,1.5 L105,7.5 L97,15.5 L89,10 Z" fill="#e8b830" stroke="#a87818" stroke-width="1"/>
<path d="M89,10 L97,15.5 L105,7.5 L105,9.5 L97,17 L89,11.5z" fill="#c89020" stroke="#986810" stroke-width="0.6"/>
<path d="M93,5 L101,10" stroke="#f8e080" stroke-width="1.5"/>
<rect x="120" y="0.5" width="10" height="10" fill="#58a8f0" stroke="#2878d0" stroke-width="1"/>
<rect x="122" y="2.5" width="6.5" height="1.6" fill="#e0f0ff"/><rect x="122" y="5.5" width="6.5" height="1.6" fill="#c8e4ff"/>
<path d="M119.500,16 q-3,-0.500 -2,-3.200 q1,-2 3.200,-1.500 q1.500,-3 5,-2 q2.200,0.600 2.800,2.600 q3.200,-1 4.200,1.500 q0.800,2.600 -2.200,2.800z" fill="#eef2fa" stroke="#6880b8" stroke-width="1"/>
<circle cx="152.5" cy="7.5" r="6.6" fill="none" stroke="#88a8d8" stroke-width="1.3"/>
<circle cx="152.5" cy="7.5" r="4" fill="none" stroke="#5880c8" stroke-width="1.2"/>
<circle cx="152.5" cy="7.5" r="1.6" fill="#3868c8"/>
<path d="M153,8 v8 a8,8 0 0 0 7.2,-7.500 l-2.200,0 a5.500,5.500 0 0 1 -5,5.300z" fill="#58b858" stroke="#389838" stroke-width="0.8"/>
<path d="M173,6.5 q7,-4.5 15,0 q-1,2.5 -7.5,2.5 q-6.5,0 -7.5,-2.5z" fill="#6aa8e0" stroke="#3878b8" stroke-width="0.8"/>
<path d="M177.5,4.5 q0.5,-4 3,-4 q2.5,0 3,4z" fill="#78b4e8" stroke="#3878b8" stroke-width="0.8"/>
<path d="M174.5,8.5 q6,2 12,0 q-0.5,5 -6,7.5 q-5.500,-2.500 -6,-7.5z" fill="#f4d048" stroke="#c89818" stroke-width="0.8"/>
<circle cx="184.800" cy="12" r="3.9" fill="#e02818" stroke="#a81808" stroke-width="0.6"/>
<rect x="183.300" y="10.500" width="3" height="3" fill="#fff"/>
<path d="M266.5,2.500 v13 M264,13.500 h13" fill="none" stroke="#555" stroke-width="1.100"/>
<path d="M266.5,1.600 l-1.500,2.800 h3z M278.4,13.500 l-2.800,-1.500 v3z" fill="#555"/>
<path d="M272.500,3.200 v8.500 M272.500,4.500 h2.600 M270,10.300 h2.500" fill="none" stroke="#108a10" stroke-width="1.400"/>
<path d="M294.5,2.500 v13 M292,13.500 h13" fill="none" stroke="#555" stroke-width="1.100"/>
<path d="M294.5,1.600 l-1.500,2.800 h3z M306.4,13.500 l-2.800,-1.500 v3z" fill="#555"/>
<path d="M300.500,0.500 v12" stroke="#189818" stroke-width="1.100"/><rect x="298.500" y="2.500" width="4" height="7.500" fill="#30d030" stroke="#189818" stroke-width="0.9"/>
<path d="M322.5,2.500 v13 M320,13.500 h13" fill="none" stroke="#555" stroke-width="1.100"/>
<path d="M322.5,1.600 l-1.500,2.800 h3z M334.4,13.500 l-2.800,-1.500 v3z" fill="#555"/>
<path d="M321,10.600 q3.500,-5.500 6,-5.300 q2.500,0.300 5.600,4" fill="none" stroke="#2a922a" stroke-width="1.200"/>
<path d="M361.8,10 l4.300,4.200" stroke="#a87c10" stroke-width="3.600" stroke-linecap="butt"/>
<path d="M361.8,10 l4.100,4" stroke="#ecd040" stroke-width="2.200" stroke-linecap="butt"/>
<circle cx="358.0" cy="5.800" r="5.400" fill="#dcf4fc" stroke="#2c7cd0" stroke-width="1.300"/>
<path d="M354.9,5.800 h6.200" stroke="#4088b8" stroke-width="1.900"/>
<path d="M358.0,2.700 v6.200" stroke="#4088b8" stroke-width="1.900"/>
<path d="M389.8,10 l4.300,4.200" stroke="#a87c10" stroke-width="3.600" stroke-linecap="butt"/>
<path d="M389.8,10 l4.100,4" stroke="#ecd040" stroke-width="2.200" stroke-linecap="butt"/>
<circle cx="386.0" cy="5.800" r="5.400" fill="#dcf4fc" stroke="#2c7cd0" stroke-width="1.300"/>
<path d="M382.9,5.800 h6.200" stroke="#4088b8" stroke-width="1.900"/>
<rect x="408.1" y="0" width="7.600" height="7.500" fill="#3aa018"/><rect x="409.1" y="2.8" width="5.600" height="3.800" fill="#f4f8ff"/><rect x="410.1" y="4" width="3.600" height="1" fill="#3aa018" opacity="0.450"/>
<rect x="416.3" y="0" width="7.600" height="7.500" fill="#1c48cc"/><rect x="417.3" y="2.8" width="5.600" height="3.800" fill="#f4f8ff"/><rect x="418.3" y="4" width="3.600" height="1" fill="#1c48cc" opacity="0.450"/>
<rect x="408.1" y="8.1" width="7.600" height="7.500" fill="#1c48cc"/><rect x="409.1" y="10.899999999999999" width="5.600" height="3.800" fill="#f4f8ff"/><rect x="410.1" y="12.1" width="3.600" height="1" fill="#1c48cc" opacity="0.450"/>
<rect x="416.3" y="8.1" width="7.600" height="7.500" fill="#3aa018"/><rect x="417.3" y="10.899999999999999" width="5.600" height="3.800" fill="#f4f8ff"/><rect x="418.3" y="12.1" width="3.600" height="1" fill="#3aa018" opacity="0.450"/>
<path d="M446.5,2.500 v13 M444,13.500 h13" fill="none" stroke="#555" stroke-width="1.100"/>
<path d="M446.5,1.600 l-1.500,2.800 h3z M458.4,13.500 l-2.800,-1.500 v3z" fill="#555"/>
<path d="M451.400,4.300 l3.700,3.100 l-3.700,3.100z" fill="#50d050" stroke="#108a10" stroke-width="0.900"/>
<path d="M474.5,2.500 v13 M472,13.500 h13" fill="none" stroke="#555" stroke-width="1.100"/>
<path d="M474.5,1.600 l-1.500,2.800 h3z M486.4,13.500 l-2.800,-1.500 v3z" fill="#555"/>
<path d="M480.500,2 v9.800" stroke="#2068b0" stroke-width="1.100"/><path d="M486,7.500 h-4 M484,5.500 l-2.200,2 l2.200,2" fill="none" stroke="#d03010" stroke-width="1.100"/>
<path d="M505.500,1.500 h8 l2.500,2.500 v9 h-10.500z" fill="#fff" stroke="#707070" stroke-width="1"/>
<path d="M509,4 h-1.500 v6 M507.500,7 h1.500" fill="none" stroke="#606060" stroke-width="0.900"/>
<path d="M513.200,6.200h3.800v4h3.800v3.800h-3.800v3.800h-3.800v-3.800h-3.800v-3.800h3.800z" fill="#30d030" stroke="#0c8c0c" stroke-width="0.900"/>
<polygon points="527.1,6.800 532.3000000000001,6.800 529.7,9.600" fill="#000"/>
<circle cx="550.500" cy="8" r="7.300" fill="#2c74d8" stroke="#1c4ca0" stroke-width="1"/>
<circle cx="550.500" cy="8" r="5" fill="#f4f8ff"/>
<path d="M550.500,4.500 v3.800 h2.800" fill="none" stroke="#303030" stroke-width="1"/>
<polygon points="566.0,6.800 571.2,6.800 568.6,9.600" fill="#000"/>
<rect x="582" y="1.500" width="15.500" height="13" fill="#fff" stroke="#3c78c8" stroke-width="1.200"/>
<rect x="582" y="1.500" width="15.500" height="2.500" fill="#4c88d8"/>
<path d="M584,7 l3,-1 l3,1 l3,-1.500 l3,0" fill="none" stroke="#c02818" stroke-width="1.100"/>
<path d="M584,12 l3,-1 l3,1 l3,-1.500 l3,1" fill="none" stroke="#189818" stroke-width="1.100"/>
<polygon points="604.8,6.800 610.0,6.800 607.4,9.600" fill="#000"/>
<path d="M634.500,1.500 v12 l3,-2.800 l2.200,4.600 l1.800,-0.900 l-2.200,-4.500 h4z" fill="#444"/>
<path d="M666.500,1 v15 M659,8.500 h15" stroke="#404040" stroke-width="1" shape-rendering="crispEdges"/>
<rect x="665.5" y="7.5" width="2" height="2" fill="#f0f0f0" />
<path d="M700.500,2 v12" stroke="#404040" stroke-width="1" shape-rendering="crispEdges"/>
<path d="M723,8.500 h12" stroke="#404040" stroke-width="1" shape-rendering="crispEdges"/>
<path d="M751,14.500 L763,3" stroke="#404040" stroke-width="1.100"/>
<path d="M777.500,10.500 L789,1 M779,14.500 L790.500,5.500 M781,7 v6.500 M783.500,5 v6.500 M786,3 v6.500 M788.500,1 v6" stroke="#404040" stroke-width="1" fill="none"/>
<text x="788" y="17" font-size="6.5" fill="#303030" text-anchor="start" font-weight="bold" >E</text>
<path d="M806,1.5 h13" stroke="#404040" stroke-width="1" stroke-dasharray="1 1" shape-rendering="crispEdges"/>
<path d="M806,4.5 h13" stroke="#404040" stroke-width="1" stroke-dasharray="1 1" shape-rendering="crispEdges"/>
<path d="M806,8.5 h13" stroke="#404040" stroke-width="1" stroke-dasharray="1 1" shape-rendering="crispEdges"/>
<path d="M806,12.5 h13" stroke="#404040" stroke-width="1" stroke-dasharray="1 1" shape-rendering="crispEdges"/>
<text x="816" y="17" font-size="6.5" fill="#303030" text-anchor="start" font-weight="bold" >F</text>
<text x="836.7" y="13" font-size="12.5" fill="#484848" text-anchor="start" font-weight="normal" stroke="#484848" stroke-width="0.45">A</text>
<rect x="862.500" y="2.500" width="12" height="12" fill="none" stroke="#404040" stroke-width="1" stroke-dasharray="1 1" shape-rendering="crispEdges"/>
<text x="864.6" y="13" font-size="12.5" fill="#484848" text-anchor="start" font-weight="normal" stroke="#484848" stroke-width="0.45">T</text>
<path d="M890,4.800 l3.600,-3.300 l3.600,3.300 l-3.600,2.600z M897,12 l3.600,-2.600 l3.600,2.600 l-3.600,3.300z" fill="#404040"/>
<path d="M892,9.300 l2.200,1.800 l5,-5.200" fill="none" stroke="#404040" stroke-width="1.500"/>
<polygon points="910.9,6.800 916.1,6.800 913.5,9.600" fill="#000"/>
<text x="937.5" y="11.2" font-size="9.5" fill="#404040" text-anchor="start" font-weight="normal" >M1</text>
<text x="965.8" y="11.2" font-size="9.5" fill="#404040" text-anchor="start" font-weight="normal" >M5</text>
<text x="991.6" y="11.2" font-size="9.5" fill="#404040" text-anchor="start" font-weight="normal" >M15</text>
<text x="1019.5" y="11.2" font-size="9.5" fill="#404040" text-anchor="start" font-weight="normal" >M30</text>
<text x="1050.6" y="11.2" font-size="9.5" fill="#404040" text-anchor="start" font-weight="normal" >H1</text>
<text x="1077" y="11.2" font-size="9.5" fill="#404040" text-anchor="start" font-weight="normal" >H4</text>
<text x="1106.2" y="11.2" font-size="9.5" fill="#404040" text-anchor="start" font-weight="normal" >D1</text>
<text x="1133.5" y="11.2" font-size="9.5" fill="#404040" text-anchor="start" font-weight="normal" >W1</text>
<text x="1160.8" y="11.2" font-size="9.5" fill="#404040" text-anchor="start" font-weight="normal" >MN</text>
<path d="M1646,13 l4.600,-4.600" stroke="#2c5cd0" stroke-width="2.700" stroke-linecap="round"/>
<circle cx="1653.600" cy="5.400" r="3.900" fill="#f6f6fa" stroke="#2c64d8" stroke-width="1.300"/>
<ellipse cx="1677" cy="16.300" rx="6.500" ry="0.900" fill="#d8d8d8"/>
<path d="M1670.300,9 q0,-4.600 5.800,-4.600 q5.800,0 5.800,4.600 q0,4.400 -5.800,4.400 l-1.200,0 l-1.600,3 l-0.300,-3.400 q-2.700,-0.900 -2.700,-4z" fill="#e0e0ea" stroke="#a4a4a8" stroke-width="0.900"/>
<path d="M1671.500,8 q0.500,-2.800 4.600,-2.800 q4,0 4.600,2.800z" fill="#f8f8fa"/>
<defs><linearGradient id="gbadge" x1="0" y1="0" x2="0" y2="1"><stop offset="0.3" stop-color="#e8583c"/><stop offset="1" stop-color="#d81c0c"/></linearGradient></defs>
<circle cx="1684.500" cy="5.200" r="8.400" fill="url(#gbadge)"/>
<text x="1684.3" y="10" font-size="12.5" fill="#fff" text-anchor="middle" font-weight="bold" >1</text>
</svg></body></html>
